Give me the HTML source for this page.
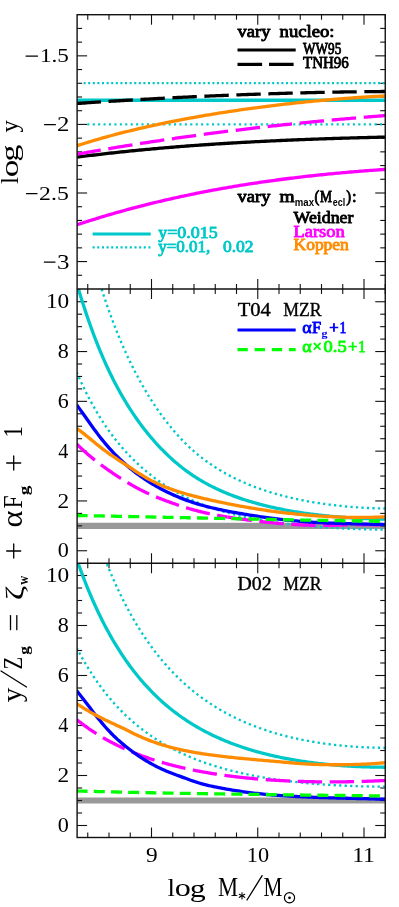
<!DOCTYPE html>
<html><head><meta charset="utf-8"><title>chart</title>
<style>html,body{margin:0;padding:0;background:#fff}body{width:399px;height:907px;overflow:hidden}</style>
</head><body>
<svg width="399" height="907" viewBox="0 0 399 907" style="display:block;will-change:transform">
<rect width="399" height="907" fill="#fff"/>
<defs>
<clipPath id="c1"><rect x="77.1" y="14.7" width="308.15" height="274.3"/></clipPath>
<clipPath id="c2"><rect x="77.1" y="289.0" width="308.15" height="274.25"/></clipPath>
<clipPath id="c3"><rect x="77.1" y="563.25" width="308.15" height="274.25"/></clipPath>
</defs>
<path d="M77.1,525.85 L385.25,525.85" fill="none" stroke="#999999" stroke-width="6.2" stroke-linecap="butt" stroke-linejoin="round"/>
<path d="M77.1,800.50 L385.25,800.50" fill="none" stroke="#999999" stroke-width="6.2" stroke-linecap="butt" stroke-linejoin="round"/>
<line x1="87.75" y1="14.70" x2="87.75" y2="19.70" stroke="#111" stroke-width="1.1"/>
<line x1="87.75" y1="284.00" x2="87.75" y2="294.00" stroke="#111" stroke-width="1.1"/>
<line x1="87.75" y1="558.25" x2="87.75" y2="568.25" stroke="#111" stroke-width="1.1"/>
<line x1="87.75" y1="837.50" x2="87.75" y2="832.50" stroke="#111" stroke-width="1.1"/>
<line x1="109.00" y1="14.70" x2="109.00" y2="19.70" stroke="#111" stroke-width="1.1"/>
<line x1="109.00" y1="284.00" x2="109.00" y2="294.00" stroke="#111" stroke-width="1.1"/>
<line x1="109.00" y1="558.25" x2="109.00" y2="568.25" stroke="#111" stroke-width="1.1"/>
<line x1="109.00" y1="837.50" x2="109.00" y2="832.50" stroke="#111" stroke-width="1.1"/>
<line x1="130.25" y1="14.70" x2="130.25" y2="19.70" stroke="#111" stroke-width="1.1"/>
<line x1="130.25" y1="284.00" x2="130.25" y2="294.00" stroke="#111" stroke-width="1.1"/>
<line x1="130.25" y1="558.25" x2="130.25" y2="568.25" stroke="#111" stroke-width="1.1"/>
<line x1="130.25" y1="837.50" x2="130.25" y2="832.50" stroke="#111" stroke-width="1.1"/>
<line x1="151.50" y1="14.70" x2="151.50" y2="24.70" stroke="#111" stroke-width="1.1"/>
<line x1="151.50" y1="279.00" x2="151.50" y2="299.00" stroke="#111" stroke-width="1.1"/>
<line x1="151.50" y1="553.25" x2="151.50" y2="573.25" stroke="#111" stroke-width="1.1"/>
<line x1="151.50" y1="837.50" x2="151.50" y2="827.50" stroke="#111" stroke-width="1.1"/>
<line x1="172.75" y1="14.70" x2="172.75" y2="19.70" stroke="#111" stroke-width="1.1"/>
<line x1="172.75" y1="284.00" x2="172.75" y2="294.00" stroke="#111" stroke-width="1.1"/>
<line x1="172.75" y1="558.25" x2="172.75" y2="568.25" stroke="#111" stroke-width="1.1"/>
<line x1="172.75" y1="837.50" x2="172.75" y2="832.50" stroke="#111" stroke-width="1.1"/>
<line x1="194.00" y1="14.70" x2="194.00" y2="19.70" stroke="#111" stroke-width="1.1"/>
<line x1="194.00" y1="284.00" x2="194.00" y2="294.00" stroke="#111" stroke-width="1.1"/>
<line x1="194.00" y1="558.25" x2="194.00" y2="568.25" stroke="#111" stroke-width="1.1"/>
<line x1="194.00" y1="837.50" x2="194.00" y2="832.50" stroke="#111" stroke-width="1.1"/>
<line x1="215.25" y1="14.70" x2="215.25" y2="19.70" stroke="#111" stroke-width="1.1"/>
<line x1="215.25" y1="284.00" x2="215.25" y2="294.00" stroke="#111" stroke-width="1.1"/>
<line x1="215.25" y1="558.25" x2="215.25" y2="568.25" stroke="#111" stroke-width="1.1"/>
<line x1="215.25" y1="837.50" x2="215.25" y2="832.50" stroke="#111" stroke-width="1.1"/>
<line x1="236.50" y1="14.70" x2="236.50" y2="19.70" stroke="#111" stroke-width="1.1"/>
<line x1="236.50" y1="284.00" x2="236.50" y2="294.00" stroke="#111" stroke-width="1.1"/>
<line x1="236.50" y1="558.25" x2="236.50" y2="568.25" stroke="#111" stroke-width="1.1"/>
<line x1="236.50" y1="837.50" x2="236.50" y2="832.50" stroke="#111" stroke-width="1.1"/>
<line x1="257.75" y1="14.70" x2="257.75" y2="24.70" stroke="#111" stroke-width="1.1"/>
<line x1="257.75" y1="279.00" x2="257.75" y2="299.00" stroke="#111" stroke-width="1.1"/>
<line x1="257.75" y1="553.25" x2="257.75" y2="573.25" stroke="#111" stroke-width="1.1"/>
<line x1="257.75" y1="837.50" x2="257.75" y2="827.50" stroke="#111" stroke-width="1.1"/>
<line x1="279.00" y1="14.70" x2="279.00" y2="19.70" stroke="#111" stroke-width="1.1"/>
<line x1="279.00" y1="284.00" x2="279.00" y2="294.00" stroke="#111" stroke-width="1.1"/>
<line x1="279.00" y1="558.25" x2="279.00" y2="568.25" stroke="#111" stroke-width="1.1"/>
<line x1="279.00" y1="837.50" x2="279.00" y2="832.50" stroke="#111" stroke-width="1.1"/>
<line x1="300.25" y1="14.70" x2="300.25" y2="19.70" stroke="#111" stroke-width="1.1"/>
<line x1="300.25" y1="284.00" x2="300.25" y2="294.00" stroke="#111" stroke-width="1.1"/>
<line x1="300.25" y1="558.25" x2="300.25" y2="568.25" stroke="#111" stroke-width="1.1"/>
<line x1="300.25" y1="837.50" x2="300.25" y2="832.50" stroke="#111" stroke-width="1.1"/>
<line x1="321.50" y1="14.70" x2="321.50" y2="19.70" stroke="#111" stroke-width="1.1"/>
<line x1="321.50" y1="284.00" x2="321.50" y2="294.00" stroke="#111" stroke-width="1.1"/>
<line x1="321.50" y1="558.25" x2="321.50" y2="568.25" stroke="#111" stroke-width="1.1"/>
<line x1="321.50" y1="837.50" x2="321.50" y2="832.50" stroke="#111" stroke-width="1.1"/>
<line x1="342.75" y1="14.70" x2="342.75" y2="19.70" stroke="#111" stroke-width="1.1"/>
<line x1="342.75" y1="284.00" x2="342.75" y2="294.00" stroke="#111" stroke-width="1.1"/>
<line x1="342.75" y1="558.25" x2="342.75" y2="568.25" stroke="#111" stroke-width="1.1"/>
<line x1="342.75" y1="837.50" x2="342.75" y2="832.50" stroke="#111" stroke-width="1.1"/>
<line x1="364.00" y1="14.70" x2="364.00" y2="24.70" stroke="#111" stroke-width="1.1"/>
<line x1="364.00" y1="279.00" x2="364.00" y2="299.00" stroke="#111" stroke-width="1.1"/>
<line x1="364.00" y1="553.25" x2="364.00" y2="573.25" stroke="#111" stroke-width="1.1"/>
<line x1="364.00" y1="837.50" x2="364.00" y2="827.50" stroke="#111" stroke-width="1.1"/>
<line x1="385.25" y1="14.70" x2="385.25" y2="19.70" stroke="#111" stroke-width="1.1"/>
<line x1="385.25" y1="284.00" x2="385.25" y2="294.00" stroke="#111" stroke-width="1.1"/>
<line x1="385.25" y1="558.25" x2="385.25" y2="568.25" stroke="#111" stroke-width="1.1"/>
<line x1="385.25" y1="837.50" x2="385.25" y2="832.50" stroke="#111" stroke-width="1.1"/>
<line x1="77.10" y1="275.29" x2="82.10" y2="275.29" stroke="#111" stroke-width="1.1"/>
<line x1="385.25" y1="275.29" x2="380.25" y2="275.29" stroke="#111" stroke-width="1.1"/>
<line x1="77.10" y1="261.57" x2="87.10" y2="261.57" stroke="#111" stroke-width="1.1"/>
<line x1="385.25" y1="261.57" x2="375.25" y2="261.57" stroke="#111" stroke-width="1.1"/>
<line x1="77.10" y1="247.85" x2="82.10" y2="247.85" stroke="#111" stroke-width="1.1"/>
<line x1="385.25" y1="247.85" x2="380.25" y2="247.85" stroke="#111" stroke-width="1.1"/>
<line x1="77.10" y1="234.14" x2="82.10" y2="234.14" stroke="#111" stroke-width="1.1"/>
<line x1="385.25" y1="234.14" x2="380.25" y2="234.14" stroke="#111" stroke-width="1.1"/>
<line x1="77.10" y1="220.43" x2="82.10" y2="220.43" stroke="#111" stroke-width="1.1"/>
<line x1="385.25" y1="220.43" x2="380.25" y2="220.43" stroke="#111" stroke-width="1.1"/>
<line x1="77.10" y1="206.71" x2="82.10" y2="206.71" stroke="#111" stroke-width="1.1"/>
<line x1="385.25" y1="206.71" x2="380.25" y2="206.71" stroke="#111" stroke-width="1.1"/>
<line x1="77.10" y1="193.00" x2="87.10" y2="193.00" stroke="#111" stroke-width="1.1"/>
<line x1="385.25" y1="193.00" x2="375.25" y2="193.00" stroke="#111" stroke-width="1.1"/>
<line x1="77.10" y1="179.28" x2="82.10" y2="179.28" stroke="#111" stroke-width="1.1"/>
<line x1="385.25" y1="179.28" x2="380.25" y2="179.28" stroke="#111" stroke-width="1.1"/>
<line x1="77.10" y1="165.56" x2="82.10" y2="165.56" stroke="#111" stroke-width="1.1"/>
<line x1="385.25" y1="165.56" x2="380.25" y2="165.56" stroke="#111" stroke-width="1.1"/>
<line x1="77.10" y1="151.85" x2="82.10" y2="151.85" stroke="#111" stroke-width="1.1"/>
<line x1="385.25" y1="151.85" x2="380.25" y2="151.85" stroke="#111" stroke-width="1.1"/>
<line x1="77.10" y1="138.14" x2="82.10" y2="138.14" stroke="#111" stroke-width="1.1"/>
<line x1="385.25" y1="138.14" x2="380.25" y2="138.14" stroke="#111" stroke-width="1.1"/>
<line x1="77.10" y1="124.42" x2="87.10" y2="124.42" stroke="#111" stroke-width="1.1"/>
<line x1="385.25" y1="124.42" x2="375.25" y2="124.42" stroke="#111" stroke-width="1.1"/>
<line x1="77.10" y1="110.70" x2="82.10" y2="110.70" stroke="#111" stroke-width="1.1"/>
<line x1="385.25" y1="110.70" x2="380.25" y2="110.70" stroke="#111" stroke-width="1.1"/>
<line x1="77.10" y1="96.99" x2="82.10" y2="96.99" stroke="#111" stroke-width="1.1"/>
<line x1="385.25" y1="96.99" x2="380.25" y2="96.99" stroke="#111" stroke-width="1.1"/>
<line x1="77.10" y1="83.28" x2="82.10" y2="83.28" stroke="#111" stroke-width="1.1"/>
<line x1="385.25" y1="83.28" x2="380.25" y2="83.28" stroke="#111" stroke-width="1.1"/>
<line x1="77.10" y1="69.56" x2="82.10" y2="69.56" stroke="#111" stroke-width="1.1"/>
<line x1="385.25" y1="69.56" x2="380.25" y2="69.56" stroke="#111" stroke-width="1.1"/>
<line x1="77.10" y1="55.85" x2="87.10" y2="55.85" stroke="#111" stroke-width="1.1"/>
<line x1="385.25" y1="55.85" x2="375.25" y2="55.85" stroke="#111" stroke-width="1.1"/>
<line x1="77.10" y1="42.13" x2="82.10" y2="42.13" stroke="#111" stroke-width="1.1"/>
<line x1="385.25" y1="42.13" x2="380.25" y2="42.13" stroke="#111" stroke-width="1.1"/>
<line x1="77.10" y1="28.42" x2="82.10" y2="28.42" stroke="#111" stroke-width="1.1"/>
<line x1="385.25" y1="28.42" x2="380.25" y2="28.42" stroke="#111" stroke-width="1.1"/>
<line x1="77.10" y1="550.75" x2="87.10" y2="550.75" stroke="#111" stroke-width="1.1"/>
<line x1="385.25" y1="550.75" x2="375.25" y2="550.75" stroke="#111" stroke-width="1.1"/>
<line x1="77.10" y1="538.30" x2="82.10" y2="538.30" stroke="#111" stroke-width="1.1"/>
<line x1="385.25" y1="538.30" x2="380.25" y2="538.30" stroke="#111" stroke-width="1.1"/>
<line x1="77.10" y1="525.85" x2="82.10" y2="525.85" stroke="#111" stroke-width="1.1"/>
<line x1="385.25" y1="525.85" x2="380.25" y2="525.85" stroke="#111" stroke-width="1.1"/>
<line x1="77.10" y1="513.40" x2="82.10" y2="513.40" stroke="#111" stroke-width="1.1"/>
<line x1="385.25" y1="513.40" x2="380.25" y2="513.40" stroke="#111" stroke-width="1.1"/>
<line x1="77.10" y1="500.95" x2="87.10" y2="500.95" stroke="#111" stroke-width="1.1"/>
<line x1="385.25" y1="500.95" x2="375.25" y2="500.95" stroke="#111" stroke-width="1.1"/>
<line x1="77.10" y1="488.50" x2="82.10" y2="488.50" stroke="#111" stroke-width="1.1"/>
<line x1="385.25" y1="488.50" x2="380.25" y2="488.50" stroke="#111" stroke-width="1.1"/>
<line x1="77.10" y1="476.05" x2="82.10" y2="476.05" stroke="#111" stroke-width="1.1"/>
<line x1="385.25" y1="476.05" x2="380.25" y2="476.05" stroke="#111" stroke-width="1.1"/>
<line x1="77.10" y1="463.60" x2="82.10" y2="463.60" stroke="#111" stroke-width="1.1"/>
<line x1="385.25" y1="463.60" x2="380.25" y2="463.60" stroke="#111" stroke-width="1.1"/>
<line x1="77.10" y1="451.15" x2="87.10" y2="451.15" stroke="#111" stroke-width="1.1"/>
<line x1="385.25" y1="451.15" x2="375.25" y2="451.15" stroke="#111" stroke-width="1.1"/>
<line x1="77.10" y1="438.70" x2="82.10" y2="438.70" stroke="#111" stroke-width="1.1"/>
<line x1="385.25" y1="438.70" x2="380.25" y2="438.70" stroke="#111" stroke-width="1.1"/>
<line x1="77.10" y1="426.25" x2="82.10" y2="426.25" stroke="#111" stroke-width="1.1"/>
<line x1="385.25" y1="426.25" x2="380.25" y2="426.25" stroke="#111" stroke-width="1.1"/>
<line x1="77.10" y1="413.80" x2="82.10" y2="413.80" stroke="#111" stroke-width="1.1"/>
<line x1="385.25" y1="413.80" x2="380.25" y2="413.80" stroke="#111" stroke-width="1.1"/>
<line x1="77.10" y1="401.35" x2="87.10" y2="401.35" stroke="#111" stroke-width="1.1"/>
<line x1="385.25" y1="401.35" x2="375.25" y2="401.35" stroke="#111" stroke-width="1.1"/>
<line x1="77.10" y1="388.90" x2="82.10" y2="388.90" stroke="#111" stroke-width="1.1"/>
<line x1="385.25" y1="388.90" x2="380.25" y2="388.90" stroke="#111" stroke-width="1.1"/>
<line x1="77.10" y1="376.45" x2="82.10" y2="376.45" stroke="#111" stroke-width="1.1"/>
<line x1="385.25" y1="376.45" x2="380.25" y2="376.45" stroke="#111" stroke-width="1.1"/>
<line x1="77.10" y1="364.00" x2="82.10" y2="364.00" stroke="#111" stroke-width="1.1"/>
<line x1="385.25" y1="364.00" x2="380.25" y2="364.00" stroke="#111" stroke-width="1.1"/>
<line x1="77.10" y1="351.55" x2="87.10" y2="351.55" stroke="#111" stroke-width="1.1"/>
<line x1="385.25" y1="351.55" x2="375.25" y2="351.55" stroke="#111" stroke-width="1.1"/>
<line x1="77.10" y1="339.10" x2="82.10" y2="339.10" stroke="#111" stroke-width="1.1"/>
<line x1="385.25" y1="339.10" x2="380.25" y2="339.10" stroke="#111" stroke-width="1.1"/>
<line x1="77.10" y1="326.65" x2="82.10" y2="326.65" stroke="#111" stroke-width="1.1"/>
<line x1="385.25" y1="326.65" x2="380.25" y2="326.65" stroke="#111" stroke-width="1.1"/>
<line x1="77.10" y1="314.20" x2="82.10" y2="314.20" stroke="#111" stroke-width="1.1"/>
<line x1="385.25" y1="314.20" x2="380.25" y2="314.20" stroke="#111" stroke-width="1.1"/>
<line x1="77.10" y1="301.75" x2="87.10" y2="301.75" stroke="#111" stroke-width="1.1"/>
<line x1="385.25" y1="301.75" x2="375.25" y2="301.75" stroke="#111" stroke-width="1.1"/>
<line x1="77.10" y1="825.50" x2="87.10" y2="825.50" stroke="#111" stroke-width="1.1"/>
<line x1="385.25" y1="825.50" x2="375.25" y2="825.50" stroke="#111" stroke-width="1.1"/>
<line x1="77.10" y1="813.00" x2="82.10" y2="813.00" stroke="#111" stroke-width="1.1"/>
<line x1="385.25" y1="813.00" x2="380.25" y2="813.00" stroke="#111" stroke-width="1.1"/>
<line x1="77.10" y1="800.50" x2="82.10" y2="800.50" stroke="#111" stroke-width="1.1"/>
<line x1="385.25" y1="800.50" x2="380.25" y2="800.50" stroke="#111" stroke-width="1.1"/>
<line x1="77.10" y1="788.00" x2="82.10" y2="788.00" stroke="#111" stroke-width="1.1"/>
<line x1="385.25" y1="788.00" x2="380.25" y2="788.00" stroke="#111" stroke-width="1.1"/>
<line x1="77.10" y1="775.50" x2="87.10" y2="775.50" stroke="#111" stroke-width="1.1"/>
<line x1="385.25" y1="775.50" x2="375.25" y2="775.50" stroke="#111" stroke-width="1.1"/>
<line x1="77.10" y1="763.00" x2="82.10" y2="763.00" stroke="#111" stroke-width="1.1"/>
<line x1="385.25" y1="763.00" x2="380.25" y2="763.00" stroke="#111" stroke-width="1.1"/>
<line x1="77.10" y1="750.50" x2="82.10" y2="750.50" stroke="#111" stroke-width="1.1"/>
<line x1="385.25" y1="750.50" x2="380.25" y2="750.50" stroke="#111" stroke-width="1.1"/>
<line x1="77.10" y1="738.00" x2="82.10" y2="738.00" stroke="#111" stroke-width="1.1"/>
<line x1="385.25" y1="738.00" x2="380.25" y2="738.00" stroke="#111" stroke-width="1.1"/>
<line x1="77.10" y1="725.50" x2="87.10" y2="725.50" stroke="#111" stroke-width="1.1"/>
<line x1="385.25" y1="725.50" x2="375.25" y2="725.50" stroke="#111" stroke-width="1.1"/>
<line x1="77.10" y1="713.00" x2="82.10" y2="713.00" stroke="#111" stroke-width="1.1"/>
<line x1="385.25" y1="713.00" x2="380.25" y2="713.00" stroke="#111" stroke-width="1.1"/>
<line x1="77.10" y1="700.50" x2="82.10" y2="700.50" stroke="#111" stroke-width="1.1"/>
<line x1="385.25" y1="700.50" x2="380.25" y2="700.50" stroke="#111" stroke-width="1.1"/>
<line x1="77.10" y1="688.00" x2="82.10" y2="688.00" stroke="#111" stroke-width="1.1"/>
<line x1="385.25" y1="688.00" x2="380.25" y2="688.00" stroke="#111" stroke-width="1.1"/>
<line x1="77.10" y1="675.50" x2="87.10" y2="675.50" stroke="#111" stroke-width="1.1"/>
<line x1="385.25" y1="675.50" x2="375.25" y2="675.50" stroke="#111" stroke-width="1.1"/>
<line x1="77.10" y1="663.00" x2="82.10" y2="663.00" stroke="#111" stroke-width="1.1"/>
<line x1="385.25" y1="663.00" x2="380.25" y2="663.00" stroke="#111" stroke-width="1.1"/>
<line x1="77.10" y1="650.50" x2="82.10" y2="650.50" stroke="#111" stroke-width="1.1"/>
<line x1="385.25" y1="650.50" x2="380.25" y2="650.50" stroke="#111" stroke-width="1.1"/>
<line x1="77.10" y1="638.00" x2="82.10" y2="638.00" stroke="#111" stroke-width="1.1"/>
<line x1="385.25" y1="638.00" x2="380.25" y2="638.00" stroke="#111" stroke-width="1.1"/>
<line x1="77.10" y1="625.50" x2="87.10" y2="625.50" stroke="#111" stroke-width="1.1"/>
<line x1="385.25" y1="625.50" x2="375.25" y2="625.50" stroke="#111" stroke-width="1.1"/>
<line x1="77.10" y1="613.00" x2="82.10" y2="613.00" stroke="#111" stroke-width="1.1"/>
<line x1="385.25" y1="613.00" x2="380.25" y2="613.00" stroke="#111" stroke-width="1.1"/>
<line x1="77.10" y1="600.50" x2="82.10" y2="600.50" stroke="#111" stroke-width="1.1"/>
<line x1="385.25" y1="600.50" x2="380.25" y2="600.50" stroke="#111" stroke-width="1.1"/>
<line x1="77.10" y1="588.00" x2="82.10" y2="588.00" stroke="#111" stroke-width="1.1"/>
<line x1="385.25" y1="588.00" x2="380.25" y2="588.00" stroke="#111" stroke-width="1.1"/>
<line x1="77.10" y1="575.50" x2="87.10" y2="575.50" stroke="#111" stroke-width="1.1"/>
<line x1="385.25" y1="575.50" x2="375.25" y2="575.50" stroke="#111" stroke-width="1.1"/>
<g clip-path="url(#c1)">
<path d="M83.6,83.13 L385.25,83.13" fill="none" stroke="#00c8c8" stroke-width="2.15" stroke-linecap="butt" stroke-linejoin="round" stroke-dasharray="2.05 2.55"/>
<path d="M87.3,124.42 L385.25,124.42" fill="none" stroke="#00c8c8" stroke-width="2.15" stroke-linecap="butt" stroke-linejoin="round" stroke-dasharray="2.05 3.37"/>
<path d="M77.1,100.27 L385.25,100.27" fill="none" stroke="#00c8c8" stroke-width="3.3" stroke-linecap="butt" stroke-linejoin="round"/>
<path d="M76.60,157.18 L78.54,156.93 L80.49,156.68 L82.43,156.44 L84.38,156.20 L86.32,155.95 L88.27,155.72 L90.21,155.48 L92.15,155.24 L94.10,155.01 L96.04,154.78 L97.99,154.55 L99.93,154.32 L101.88,154.10 L103.82,153.87 L105.77,153.65 L107.71,153.43 L109.65,153.22 L111.60,153.00 L113.54,152.79 L115.49,152.58 L117.43,152.37 L119.38,152.16 L121.32,151.95 L123.26,151.75 L125.21,151.55 L127.15,151.35 L129.10,151.15 L131.04,150.95 L132.99,150.76 L134.93,150.57 L136.87,150.38 L138.82,150.19 L140.76,150.00 L142.71,149.81 L144.65,149.63 L146.60,149.45 L148.54,149.27 L150.48,149.09 L152.43,148.91 L154.37,148.74 L156.32,148.56 L158.26,148.39 L160.21,148.22 L162.15,148.05 L164.10,147.89 L166.04,147.72 L167.98,147.56 L169.93,147.40 L171.87,147.24 L173.82,147.08 L175.76,146.92 L177.71,146.77 L179.65,146.61 L181.59,146.46 L183.54,146.31 L185.48,146.16 L187.43,146.01 L189.37,145.87 L191.32,145.72 L193.26,145.58 L195.20,145.44 L197.15,145.30 L199.09,145.16 L201.04,145.02 L202.98,144.88 L204.93,144.75 L206.87,144.62 L208.82,144.49 L210.76,144.36 L212.70,144.23 L214.65,144.10 L216.59,143.97 L218.54,143.85 L220.48,143.73 L222.43,143.60 L224.37,143.48 L226.31,143.36 L228.26,143.25 L230.20,143.13 L232.15,143.01 L234.09,142.90 L236.04,142.79 L237.98,142.67 L239.92,142.56 L241.87,142.45 L243.81,142.35 L245.76,142.24 L247.70,142.13 L249.65,142.03 L251.59,141.93 L253.53,141.82 L255.48,141.72 L257.42,141.62 L259.37,141.53 L261.31,141.43 L263.26,141.33 L265.20,141.24 L267.15,141.14 L269.09,141.05 L271.03,140.96 L272.98,140.87 L274.92,140.78 L276.87,140.69 L278.81,140.60 L280.76,140.51 L282.70,140.43 L284.64,140.34 L286.59,140.26 L288.53,140.17 L290.48,140.09 L292.42,140.01 L294.37,139.93 L296.31,139.85 L298.25,139.77 L300.20,139.70 L302.14,139.62 L304.09,139.55 L306.03,139.47 L307.98,139.40 L309.92,139.32 L311.87,139.25 L313.81,139.18 L315.75,139.11 L317.70,139.04 L319.64,138.97 L321.59,138.90 L323.53,138.84 L325.48,138.77 L327.42,138.70 L329.36,138.64 L331.31,138.57 L333.25,138.51 L335.20,138.45 L337.14,138.39 L339.09,138.32 L341.03,138.26 L342.97,138.20 L344.92,138.14 L346.86,138.09 L348.81,138.03 L350.75,137.97 L352.70,137.91 L354.64,137.86 L356.58,137.80 L358.53,137.75 L360.47,137.69 L362.42,137.64 L364.36,137.58 L366.31,137.53 L368.25,137.48 L370.20,137.43 L372.14,137.38 L374.08,137.33 L376.03,137.28 L377.97,137.23 L379.92,137.18 L381.86,137.13 L383.81,137.08 L385.75,137.03" fill="none" stroke="#000000" stroke-width="3.3" stroke-linecap="butt" stroke-linejoin="round"/>
<path d="M76.60,103.51 L78.54,103.37 L80.49,103.24 L82.43,103.11 L84.38,102.98 L86.32,102.85 L88.27,102.72 L90.21,102.59 L92.15,102.46 L94.10,102.33 L96.04,102.21 L97.99,102.08 L99.93,101.96 L101.88,101.83 L103.82,101.71 L105.77,101.58 L107.71,101.46 L109.65,101.34 L111.60,101.22 L113.54,101.10 L115.49,100.98 L117.43,100.86 L119.38,100.74 L121.32,100.62 L123.26,100.51 L125.21,100.39 L127.15,100.27 L129.10,100.16 L131.04,100.04 L132.99,99.93 L134.93,99.82 L136.87,99.70 L138.82,99.59 L140.76,99.48 L142.71,99.37 L144.65,99.26 L146.60,99.15 L148.54,99.05 L150.48,98.94 L152.43,98.83 L154.37,98.73 L156.32,98.62 L158.26,98.52 L160.21,98.41 L162.15,98.31 L164.10,98.21 L166.04,98.11 L167.98,98.01 L169.93,97.91 L171.87,97.81 L173.82,97.71 L175.76,97.61 L177.71,97.51 L179.65,97.42 L181.59,97.32 L183.54,97.22 L185.48,97.13 L187.43,97.04 L189.37,96.94 L191.32,96.85 L193.26,96.76 L195.20,96.67 L197.15,96.58 L199.09,96.49 L201.04,96.40 L202.98,96.31 L204.93,96.23 L206.87,96.14 L208.82,96.06 L210.76,95.97 L212.70,95.89 L214.65,95.80 L216.59,95.72 L218.54,95.64 L220.48,95.56 L222.43,95.48 L224.37,95.40 L226.31,95.32 L228.26,95.24 L230.20,95.16 L232.15,95.09 L234.09,95.01 L236.04,94.94 L237.98,94.86 L239.92,94.79 L241.87,94.72 L243.81,94.64 L245.76,94.57 L247.70,94.50 L249.65,94.43 L251.59,94.36 L253.53,94.29 L255.48,94.23 L257.42,94.16 L259.37,94.09 L261.31,94.03 L263.26,93.96 L265.20,93.90 L267.15,93.84 L269.09,93.78 L271.03,93.71 L272.98,93.65 L274.92,93.59 L276.87,93.53 L278.81,93.48 L280.76,93.42 L282.70,93.36 L284.64,93.31 L286.59,93.25 L288.53,93.20 L290.48,93.14 L292.42,93.09 L294.37,93.04 L296.31,92.99 L298.25,92.94 L300.20,92.89 L302.14,92.84 L304.09,92.79 L306.03,92.74 L307.98,92.69 L309.92,92.65 L311.87,92.60 L313.81,92.56 L315.75,92.52 L317.70,92.47 L319.64,92.43 L321.59,92.39 L323.53,92.35 L325.48,92.31 L327.42,92.27 L329.36,92.23 L331.31,92.20 L333.25,92.16 L335.20,92.13 L337.14,92.09 L339.09,92.06 L341.03,92.02 L342.97,91.99 L344.92,91.96 L346.86,91.93 L348.81,91.90 L350.75,91.87 L352.70,91.84 L354.64,91.81 L356.58,91.79 L358.53,91.76 L360.47,91.74 L362.42,91.71 L364.36,91.69 L366.31,91.67 L368.25,91.65 L370.20,91.62 L372.14,91.60 L374.08,91.58 L376.03,91.57 L377.97,91.55 L379.92,91.53 L381.86,91.52 L383.81,91.50 L385.75,91.49" fill="none" stroke="#000000" stroke-width="3.3" stroke-linecap="butt" stroke-linejoin="round" stroke-dasharray="24.4 7.6"/>
<path d="M76.60,224.90 L78.54,224.26 L80.49,223.63 L82.43,223.00 L84.38,222.37 L86.32,221.75 L88.27,221.13 L90.21,220.52 L92.15,219.91 L94.10,219.31 L96.04,218.71 L97.99,218.11 L99.93,217.52 L101.88,216.94 L103.82,216.35 L105.77,215.78 L107.71,215.20 L109.65,214.63 L111.60,214.07 L113.54,213.51 L115.49,212.95 L117.43,212.40 L119.38,211.86 L121.32,211.31 L123.26,210.77 L125.21,210.24 L127.15,209.71 L129.10,209.18 L131.04,208.66 L132.99,208.14 L134.93,207.63 L136.87,207.12 L138.82,206.61 L140.76,206.11 L142.71,205.61 L144.65,205.12 L146.60,204.63 L148.54,204.14 L150.48,203.66 L152.43,203.18 L154.37,202.71 L156.32,202.24 L158.26,201.77 L160.21,201.31 L162.15,200.85 L164.10,200.40 L166.04,199.95 L167.98,199.50 L169.93,199.06 L171.87,198.62 L173.82,198.18 L175.76,197.75 L177.71,197.32 L179.65,196.90 L181.59,196.48 L183.54,196.06 L185.48,195.65 L187.43,195.24 L189.37,194.83 L191.32,194.43 L193.26,194.03 L195.20,193.63 L197.15,193.24 L199.09,192.85 L201.04,192.47 L202.98,192.09 L204.93,191.71 L206.87,191.33 L208.82,190.96 L210.76,190.60 L212.70,190.23 L214.65,189.87 L216.59,189.51 L218.54,189.16 L220.48,188.81 L222.43,188.46 L224.37,188.12 L226.31,187.78 L228.26,187.44 L230.20,187.11 L232.15,186.77 L234.09,186.45 L236.04,186.12 L237.98,185.80 L239.92,185.48 L241.87,185.17 L243.81,184.85 L245.76,184.55 L247.70,184.24 L249.65,183.94 L251.59,183.64 L253.53,183.34 L255.48,183.05 L257.42,182.76 L259.37,182.47 L261.31,182.19 L263.26,181.90 L265.20,181.62 L267.15,181.35 L269.09,181.08 L271.03,180.81 L272.98,180.54 L274.92,180.27 L276.87,180.01 L278.81,179.75 L280.76,179.50 L282.70,179.25 L284.64,179.00 L286.59,178.75 L288.53,178.50 L290.48,178.26 L292.42,178.02 L294.37,177.79 L296.31,177.55 L298.25,177.32 L300.20,177.09 L302.14,176.87 L304.09,176.64 L306.03,176.42 L307.98,176.20 L309.92,175.99 L311.87,175.77 L313.81,175.56 L315.75,175.35 L317.70,175.15 L319.64,174.95 L321.59,174.74 L323.53,174.55 L325.48,174.35 L327.42,174.16 L329.36,173.96 L331.31,173.78 L333.25,173.59 L335.20,173.40 L337.14,173.22 L339.09,173.04 L341.03,172.87 L342.97,172.69 L344.92,172.52 L346.86,172.35 L348.81,172.18 L350.75,172.01 L352.70,171.85 L354.64,171.68 L356.58,171.52 L358.53,171.37 L360.47,171.21 L362.42,171.06 L364.36,170.91 L366.31,170.76 L368.25,170.61 L370.20,170.46 L372.14,170.32 L374.08,170.18 L376.03,170.04 L377.97,169.90 L379.92,169.76 L381.86,169.63 L383.81,169.50 L385.75,169.37" fill="none" stroke="#ff00ff" stroke-width="3.3" stroke-linecap="butt" stroke-linejoin="round"/>
<path d="M76.60,154.30 L78.54,153.95 L80.49,153.60 L82.43,153.25 L84.38,152.90 L86.32,152.56 L88.27,152.21 L90.21,151.87 L92.15,151.53 L94.10,151.19 L96.04,150.85 L97.99,150.51 L99.93,150.18 L101.88,149.84 L103.82,149.51 L105.77,149.18 L107.71,148.85 L109.65,148.52 L111.60,148.20 L113.54,147.87 L115.49,147.55 L117.43,147.22 L119.38,146.90 L121.32,146.59 L123.26,146.27 L125.21,145.95 L127.15,145.64 L129.10,145.32 L131.04,145.01 L132.99,144.70 L134.93,144.39 L136.87,144.09 L138.82,143.78 L140.76,143.48 L142.71,143.17 L144.65,142.87 L146.60,142.57 L148.54,142.27 L150.48,141.97 L152.43,141.68 L154.37,141.38 L156.32,141.09 L158.26,140.80 L160.21,140.51 L162.15,140.22 L164.10,139.93 L166.04,139.65 L167.98,139.36 L169.93,139.08 L171.87,138.80 L173.82,138.52 L175.76,138.24 L177.71,137.96 L179.65,137.68 L181.59,137.41 L183.54,137.14 L185.48,136.86 L187.43,136.59 L189.37,136.32 L191.32,136.05 L193.26,135.79 L195.20,135.52 L197.15,135.26 L199.09,135.00 L201.04,134.73 L202.98,134.47 L204.93,134.22 L206.87,133.96 L208.82,133.70 L210.76,133.45 L212.70,133.19 L214.65,132.94 L216.59,132.69 L218.54,132.44 L220.48,132.19 L222.43,131.95 L224.37,131.70 L226.31,131.46 L228.26,131.21 L230.20,130.97 L232.15,130.73 L234.09,130.49 L236.04,130.25 L237.98,130.02 L239.92,129.78 L241.87,129.55 L243.81,129.32 L245.76,129.08 L247.70,128.85 L249.65,128.62 L251.59,128.40 L253.53,128.17 L255.48,127.95 L257.42,127.72 L259.37,127.50 L261.31,127.28 L263.26,127.06 L265.20,126.84 L267.15,126.62 L269.09,126.40 L271.03,126.19 L272.98,125.97 L274.92,125.76 L276.87,125.55 L278.81,125.34 L280.76,125.13 L282.70,124.92 L284.64,124.72 L286.59,124.51 L288.53,124.31 L290.48,124.10 L292.42,123.90 L294.37,123.70 L296.31,123.50 L298.25,123.30 L300.20,123.10 L302.14,122.91 L304.09,122.71 L306.03,122.52 L307.98,122.33 L309.92,122.14 L311.87,121.94 L313.81,121.76 L315.75,121.57 L317.70,121.38 L319.64,121.20 L321.59,121.01 L323.53,120.83 L325.48,120.64 L327.42,120.46 L329.36,120.28 L331.31,120.10 L333.25,119.93 L335.20,119.75 L337.14,119.57 L339.09,119.40 L341.03,119.23 L342.97,119.05 L344.92,118.88 L346.86,118.71 L348.81,118.54 L350.75,118.38 L352.70,118.21 L354.64,118.04 L356.58,117.88 L358.53,117.72 L360.47,117.55 L362.42,117.39 L364.36,117.23 L366.31,117.07 L368.25,116.92 L370.20,116.76 L372.14,116.60 L374.08,116.45 L376.03,116.29 L377.97,116.14 L379.92,115.99 L381.86,115.84 L383.81,115.69 L385.75,115.54" fill="none" stroke="#ff00ff" stroke-width="3.3" stroke-linecap="butt" stroke-linejoin="round" stroke-dasharray="24.5 7.68"/>
<path d="M76.60,145.82 L78.54,145.19 L80.49,144.57 L82.43,143.96 L84.38,143.36 L86.32,142.76 L88.27,142.17 L90.21,141.58 L92.15,141.00 L94.10,140.42 L96.04,139.85 L97.99,139.29 L99.93,138.73 L101.88,138.18 L103.82,137.63 L105.77,137.09 L107.71,136.56 L109.65,136.02 L111.60,135.50 L113.54,134.98 L115.49,134.47 L117.43,133.96 L119.38,133.45 L121.32,132.95 L123.26,132.46 L125.21,131.97 L127.15,131.48 L129.10,131.00 L131.04,130.53 L132.99,130.06 L134.93,129.59 L136.87,129.13 L138.82,128.68 L140.76,128.23 L142.71,127.78 L144.65,127.34 L146.60,126.90 L148.54,126.46 L150.48,126.03 L152.43,125.61 L154.37,125.19 L156.32,124.77 L158.26,124.36 L160.21,123.95 L162.15,123.54 L164.10,123.14 L166.04,122.74 L167.98,122.35 L169.93,121.96 L171.87,121.57 L173.82,121.19 L175.76,120.81 L177.71,120.43 L179.65,120.06 L181.59,119.69 L183.54,119.32 L185.48,118.96 L187.43,118.60 L189.37,118.24 L191.32,117.89 L193.26,117.54 L195.20,117.19 L197.15,116.84 L199.09,116.50 L201.04,116.16 L202.98,115.83 L204.93,115.49 L206.87,115.16 L208.82,114.84 L210.76,114.51 L212.70,114.19 L214.65,113.87 L216.59,113.56 L218.54,113.24 L220.48,112.93 L222.43,112.62 L224.37,112.32 L226.31,112.02 L228.26,111.72 L230.20,111.42 L232.15,111.13 L234.09,110.84 L236.04,110.55 L237.98,110.26 L239.92,109.98 L241.87,109.70 L243.81,109.42 L245.76,109.15 L247.70,108.88 L249.65,108.61 L251.59,108.34 L253.53,108.08 L255.48,107.81 L257.42,107.56 L259.37,107.30 L261.31,107.05 L263.26,106.79 L265.20,106.55 L267.15,106.30 L269.09,106.06 L271.03,105.82 L272.98,105.58 L274.92,105.34 L276.87,105.11 L278.81,104.88 L280.76,104.65 L282.70,104.43 L284.64,104.20 L286.59,103.98 L288.53,103.77 L290.48,103.55 L292.42,103.34 L294.37,103.13 L296.31,102.92 L298.25,102.71 L300.20,102.51 L302.14,102.31 L304.09,102.11 L306.03,101.91 L307.98,101.72 L309.92,101.53 L311.87,101.34 L313.81,101.16 L315.75,100.97 L317.70,100.79 L319.64,100.61 L321.59,100.43 L323.53,100.26 L325.48,100.09 L327.42,99.92 L329.36,99.75 L331.31,99.58 L333.25,99.42 L335.20,99.26 L337.14,99.10 L339.09,98.94 L341.03,98.79 L342.97,98.64 L344.92,98.49 L346.86,98.34 L348.81,98.20 L350.75,98.05 L352.70,97.91 L354.64,97.77 L356.58,97.64 L358.53,97.50 L360.47,97.37 L362.42,97.24 L364.36,97.11 L366.31,96.99 L368.25,96.86 L370.20,96.74 L372.14,96.62 L374.08,96.51 L376.03,96.39 L377.97,96.28 L379.92,96.17 L381.86,96.06 L383.81,95.95 L385.75,95.84" fill="none" stroke="#ff8c00" stroke-width="3.3" stroke-linecap="butt" stroke-linejoin="round"/>
</g>
<g clip-path="url(#c2)">
<path d="M76.60,193.51 L78.01,199.89 L79.42,206.15 L80.83,212.28 L82.25,218.28 L83.66,224.17 L85.07,229.93 L86.48,235.57 L87.89,241.10 L89.30,246.51 L90.72,251.81 L92.13,257.00 L93.54,262.07 L94.95,267.04 L96.36,271.90 L97.77,276.65 L99.19,281.31 L100.60,285.86 L102.01,290.31 L103.42,294.66 L104.83,298.92 L106.24,303.08 L107.66,307.16 L109.07,311.15 L110.48,315.05 L111.89,318.87 L113.30,322.62 L114.71,326.28 L116.13,329.87 L117.54,333.39 L118.95,336.84 L120.36,340.22 L121.77,343.54 L123.18,346.79 L124.60,349.97 L126.01,353.10 L127.42,356.17 L128.83,359.17 L130.24,362.12 L131.65,365.02 L133.07,367.85 L134.48,370.64 L135.89,373.37 L137.30,376.05 L138.71,378.68 L140.12,381.26 L141.54,383.80 L142.95,386.29 L144.36,388.73 L145.77,391.12 L147.18,393.48 L148.59,395.79 L150.01,398.05 L151.42,400.28 L152.83,402.47 L154.24,404.61 L155.65,406.72 L157.06,408.79 L158.48,410.83 L159.89,412.82 L161.30,414.79 L162.71,416.71 L164.12,418.61 L165.53,420.47 L166.95,422.30 L168.36,424.10 L169.77,425.86 L171.18,427.60 L172.59,429.30 L174.00,430.98 L175.42,432.62 L176.83,434.23 L178.24,435.81 L179.65,437.35 L181.06,438.87 L182.47,440.35 L183.88,441.80 L185.30,443.22 L186.71,444.61 L188.12,445.97 L189.53,447.30 L190.94,448.61 L192.35,449.89 L193.77,451.14 L195.18,452.36 L196.59,453.56 L198.00,454.73 L199.41,455.89 L200.82,457.01 L202.24,458.12 L203.65,459.20 L205.06,460.26 L206.47,461.29 L207.88,462.31 L209.29,463.31 L210.71,464.28 L212.12,465.24 L213.53,466.18 L214.94,467.10 L216.35,468.00 L217.76,468.88 L219.18,469.75 L220.59,470.60 L222.00,471.43 L223.41,472.25 L224.82,473.05 L226.23,473.83 L227.65,474.60 L229.06,475.36 L230.47,476.10 L231.88,476.83 L233.29,477.54 L234.70,478.24 L236.12,478.92 L237.53,479.60 L238.94,480.26 L240.35,480.91 L241.76,481.55 L243.17,482.17 L244.59,482.78 L246.00,483.39 L247.41,483.98 L248.82,484.56 L250.23,485.13 L251.64,485.69 L253.06,486.24 L254.47,486.78 L255.88,487.31 L257.29,487.83 L258.70,488.34 L260.11,488.84 L261.53,489.33 L262.94,489.82 L264.35,490.29 L265.76,490.76 L267.17,491.21 L268.58,491.66 L270.00,492.11 L271.41,492.54 L272.82,492.96 L274.23,493.38 L275.64,493.79 L277.05,494.19 L278.47,494.59 L279.88,494.97 L281.29,495.35 L282.70,495.73 L284.11,496.09 L285.52,496.45 L286.93,496.80 L288.35,497.15 L289.76,497.48 L291.17,497.82 L292.58,498.14 L293.99,498.46 L295.40,498.77 L296.82,499.08 L298.23,499.38 L299.64,499.67 L301.05,499.96 L302.46,500.25 L303.87,500.52 L305.29,500.79 L306.70,501.06 L308.11,501.32 L309.52,501.57 L310.93,501.82 L312.34,502.07 L313.76,502.31 L315.17,502.54 L316.58,502.77 L317.99,502.99 L319.40,503.21 L320.81,503.42 L322.23,503.63 L323.64,503.83 L325.05,504.03 L326.46,504.22 L327.87,504.41 L329.28,504.60 L330.70,504.78 L332.11,504.95 L333.52,505.12 L334.93,505.29 L336.34,505.45 L337.75,505.61 L339.17,505.76 L340.58,505.91 L341.99,506.05 L343.40,506.19 L344.81,506.33 L346.22,506.46 L347.64,506.59 L349.05,506.71 L350.46,506.83 L351.87,506.95 L353.28,507.06 L354.69,507.17 L356.11,507.27 L357.52,507.37 L358.93,507.46 L360.34,507.56 L361.75,507.64 L363.16,507.73 L364.58,507.81 L365.99,507.88 L367.40,507.96 L368.81,508.02 L370.22,508.09 L371.63,508.15 L373.05,508.21 L374.46,508.26 L375.87,508.31 L377.28,508.36 L378.69,508.40 L380.10,508.44 L381.52,508.48 L382.93,508.51 L384.34,508.53 L385.75,508.56" fill="none" stroke="#00c8c8" stroke-width="2.35" stroke-linecap="butt" stroke-linejoin="round" stroke-dasharray="2.3 3.2"/>
<path d="M76.60,372.13 L78.01,375.32 L79.42,378.45 L80.83,381.51 L82.25,384.52 L83.66,387.46 L85.07,390.34 L86.48,393.16 L87.89,395.93 L89.30,398.63 L90.72,401.28 L92.13,403.87 L93.54,406.41 L94.95,408.89 L96.36,411.32 L97.77,413.70 L99.19,416.03 L100.60,418.30 L102.01,420.53 L103.42,422.71 L104.83,424.83 L106.24,426.92 L107.66,428.95 L109.07,430.95 L110.48,432.90 L111.89,434.81 L113.30,436.68 L114.71,438.52 L116.13,440.31 L117.54,442.07 L118.95,443.80 L120.36,445.49 L121.77,447.14 L123.18,448.77 L124.60,450.36 L126.01,451.93 L127.42,453.46 L128.83,454.96 L130.24,456.44 L131.65,457.88 L133.07,459.30 L134.48,460.69 L135.89,462.06 L137.30,463.40 L138.71,464.72 L140.12,466.01 L141.54,467.27 L142.95,468.52 L144.36,469.74 L145.77,470.94 L147.18,472.11 L148.59,473.27 L150.01,474.40 L151.42,475.51 L152.83,476.61 L154.24,477.68 L155.65,478.74 L157.06,479.77 L158.48,480.79 L159.89,481.79 L161.30,482.77 L162.71,483.73 L164.12,484.68 L165.53,485.61 L166.95,486.52 L168.36,487.42 L169.77,488.31 L171.18,489.17 L172.59,490.03 L174.00,490.86 L175.42,491.68 L176.83,492.49 L178.24,493.28 L179.65,494.05 L181.06,494.81 L182.47,495.55 L183.88,496.27 L185.30,496.98 L186.71,497.68 L188.12,498.36 L189.53,499.03 L190.94,499.68 L192.35,500.32 L193.77,500.94 L195.18,501.56 L196.59,502.16 L198.00,502.74 L199.41,503.32 L200.82,503.88 L202.24,504.43 L203.65,504.97 L205.06,505.50 L206.47,506.02 L207.88,506.53 L209.29,507.03 L210.71,507.52 L212.12,507.99 L213.53,508.46 L214.94,508.92 L216.35,509.37 L217.76,509.82 L219.18,510.25 L220.59,510.67 L222.00,511.09 L223.41,511.50 L224.82,511.90 L226.23,512.29 L227.65,512.68 L229.06,513.05 L230.47,513.42 L231.88,513.79 L233.29,514.14 L234.70,514.49 L236.12,514.84 L237.53,515.17 L238.94,515.50 L240.35,515.83 L241.76,516.15 L243.17,516.46 L244.59,516.77 L246.00,517.07 L247.41,517.36 L248.82,517.65 L250.23,517.94 L251.64,518.22 L253.06,518.49 L254.47,518.76 L255.88,519.03 L257.29,519.29 L258.70,519.54 L260.11,519.79 L261.53,520.04 L262.94,520.28 L264.35,520.52 L265.76,520.75 L267.17,520.98 L268.58,521.21 L270.00,521.43 L271.41,521.64 L272.82,521.86 L274.23,522.07 L275.64,522.27 L277.05,522.47 L278.47,522.67 L279.88,522.86 L281.29,523.05 L282.70,523.24 L284.11,523.42 L285.52,523.60 L286.93,523.78 L288.35,523.95 L289.76,524.12 L291.17,524.28 L292.58,524.45 L293.99,524.61 L295.40,524.76 L296.82,524.91 L298.23,525.07 L299.64,525.21 L301.05,525.36 L302.46,525.50 L303.87,525.64 L305.29,525.77 L306.70,525.90 L308.11,526.03 L309.52,526.16 L310.93,526.29 L312.34,526.41 L313.76,526.53 L315.17,526.64 L316.58,526.76 L317.99,526.87 L319.40,526.98 L320.81,527.09 L322.23,527.19 L323.64,527.29 L325.05,527.39 L326.46,527.49 L327.87,527.58 L329.28,527.67 L330.70,527.76 L332.11,527.85 L333.52,527.94 L334.93,528.02 L336.34,528.10 L337.75,528.18 L339.17,528.26 L340.58,528.33 L341.99,528.40 L343.40,528.47 L344.81,528.54 L346.22,528.61 L347.64,528.67 L349.05,528.73 L350.46,528.79 L351.87,528.85 L353.28,528.90 L354.69,528.96 L356.11,529.01 L357.52,529.06 L358.93,529.11 L360.34,529.15 L361.75,529.20 L363.16,529.24 L364.58,529.28 L365.99,529.32 L367.40,529.35 L368.81,529.39 L370.22,529.42 L371.63,529.45 L373.05,529.48 L374.46,529.51 L375.87,529.53 L377.28,529.55 L378.69,529.58 L380.10,529.59 L381.52,529.61 L382.93,529.63 L384.34,529.64 L385.75,529.65" fill="none" stroke="#00c8c8" stroke-width="2.35" stroke-linecap="butt" stroke-linejoin="round" stroke-dasharray="2.3 3.2"/>
<path d="M76.60,282.82 L78.01,287.60 L79.42,292.30 L80.83,296.89 L82.25,301.40 L83.66,305.81 L85.07,310.13 L86.48,314.37 L87.89,318.51 L89.30,322.57 L90.72,326.54 L92.13,330.43 L93.54,334.24 L94.95,337.97 L96.36,341.61 L97.77,345.18 L99.19,348.67 L100.60,352.08 L102.01,355.42 L103.42,358.68 L104.83,361.88 L106.24,365.00 L107.66,368.06 L109.07,371.05 L110.48,373.98 L111.89,376.84 L113.30,379.65 L114.71,382.40 L116.13,385.09 L117.54,387.73 L118.95,390.32 L120.36,392.85 L121.77,395.34 L123.18,397.78 L124.60,400.17 L126.01,402.51 L127.42,404.81 L128.83,407.07 L130.24,409.28 L131.65,411.45 L133.07,413.58 L134.48,415.67 L135.89,417.72 L137.30,419.73 L138.71,421.70 L140.12,423.64 L141.54,425.54 L142.95,427.40 L144.36,429.23 L145.77,431.03 L147.18,432.79 L148.59,434.53 L150.01,436.23 L151.42,437.90 L152.83,439.54 L154.24,441.15 L155.65,442.73 L157.06,444.28 L158.48,445.81 L159.89,447.31 L161.30,448.78 L162.71,450.22 L164.12,451.64 L165.53,453.04 L166.95,454.41 L168.36,455.76 L169.77,457.08 L171.18,458.39 L172.59,459.66 L174.00,460.92 L175.42,462.15 L176.83,463.36 L178.24,464.54 L179.65,465.70 L181.06,466.84 L182.47,467.95 L183.88,469.04 L185.30,470.10 L186.71,471.14 L188.12,472.17 L189.53,473.16 L190.94,474.14 L192.35,475.10 L193.77,476.04 L195.18,476.96 L196.59,477.86 L198.00,478.74 L199.41,479.60 L200.82,480.45 L202.24,481.27 L203.65,482.09 L205.06,482.88 L206.47,483.66 L207.88,484.42 L209.29,485.17 L210.71,485.90 L212.12,486.62 L213.53,487.32 L214.94,488.01 L216.35,488.69 L217.76,489.35 L219.18,490.00 L220.59,490.63 L222.00,491.26 L223.41,491.87 L224.82,492.47 L226.23,493.06 L227.65,493.64 L229.06,494.21 L230.47,494.76 L231.88,495.31 L233.29,495.84 L234.70,496.37 L236.12,496.88 L237.53,497.39 L238.94,497.88 L240.35,498.37 L241.76,498.85 L243.17,499.32 L244.59,499.78 L246.00,500.23 L247.41,500.67 L248.82,501.11 L250.23,501.53 L251.64,501.95 L253.06,502.37 L254.47,502.77 L255.88,503.17 L257.29,503.56 L258.70,503.94 L260.11,504.32 L261.53,504.69 L262.94,505.05 L264.35,505.41 L265.76,505.76 L267.17,506.10 L268.58,506.44 L270.00,506.77 L271.41,507.09 L272.82,507.41 L274.23,507.72 L275.64,508.03 L277.05,508.33 L278.47,508.63 L279.88,508.92 L281.29,509.20 L282.70,509.48 L284.11,509.76 L285.52,510.02 L286.93,510.29 L288.35,510.55 L289.76,510.80 L291.17,511.05 L292.58,511.29 L293.99,511.53 L295.40,511.77 L296.82,512.00 L298.23,512.22 L299.64,512.44 L301.05,512.66 L302.46,512.87 L303.87,513.08 L305.29,513.28 L306.70,513.48 L308.11,513.68 L309.52,513.87 L310.93,514.05 L312.34,514.24 L313.76,514.42 L315.17,514.59 L316.58,514.76 L317.99,514.93 L319.40,515.09 L320.81,515.25 L322.23,515.41 L323.64,515.56 L325.05,515.71 L326.46,515.86 L327.87,516.00 L329.28,516.14 L330.70,516.27 L332.11,516.40 L333.52,516.53 L334.93,516.65 L336.34,516.78 L337.75,516.89 L339.17,517.01 L340.58,517.12 L341.99,517.23 L343.40,517.33 L344.81,517.43 L346.22,517.53 L347.64,517.63 L349.05,517.72 L350.46,517.81 L351.87,517.90 L353.28,517.98 L354.69,518.06 L356.11,518.14 L357.52,518.21 L358.93,518.29 L360.34,518.35 L361.75,518.42 L363.16,518.48 L364.58,518.54 L365.99,518.60 L367.40,518.65 L368.81,518.71 L370.22,518.75 L371.63,518.80 L373.05,518.84 L374.46,518.88 L375.87,518.92 L377.28,518.96 L378.69,518.99 L380.10,519.02 L381.52,519.04 L382.93,519.07 L384.34,519.09 L385.75,519.11" fill="none" stroke="#00c8c8" stroke-width="3.3" stroke-linecap="butt" stroke-linejoin="round"/>
<path d="M76.60,443.91 L77.37,444.68 L78.15,445.44 L78.92,446.20 L79.70,446.94 L80.47,447.68 L81.25,448.41 L82.02,449.13 L82.80,449.84 L83.57,450.54 L84.35,451.24 L85.12,451.93 L85.90,452.62 L86.67,453.30 L87.45,453.97 L88.22,454.63 L89.00,455.29 L89.77,455.94 L90.55,456.59 L91.32,457.23 L92.10,457.87 L92.87,458.50 L93.65,459.12 L94.42,459.74 L95.20,460.35 L95.97,460.96 L96.75,461.56 L97.52,462.16 L98.29,462.76 L99.07,463.34 L99.84,463.93 L100.62,464.51 L101.39,465.08 L102.17,465.65 L102.94,466.22 L103.72,466.79 L104.49,467.34 L105.27,467.90 L106.04,468.45 L106.82,469.00 L107.59,469.54 L108.37,470.08 L109.14,470.62 L109.92,471.15 L110.69,471.69 L111.47,472.21 L112.24,472.74 L113.02,473.26 L113.79,473.78 L114.57,474.29 L115.34,474.81 L116.12,475.32 L116.89,475.82 L117.67,476.33 L118.44,476.83 L119.21,477.33 L119.99,477.83 L120.76,478.32 L121.54,478.81 L122.31,479.30 L123.09,479.79 L123.86,480.28 L124.64,480.76 L125.41,481.24 L126.19,481.71 L126.96,482.18 L127.74,482.65 L128.51,483.12 L129.29,483.58 L130.06,484.04 L130.84,484.49 L131.61,484.94 L132.39,485.39 L133.16,485.83 L133.94,486.27 L134.71,486.70 L135.49,487.13 L136.26,487.56 L137.04,487.98 L137.81,488.39 L138.58,488.80 L139.36,489.21 L140.13,489.61 L140.91,490.01 L141.68,490.40 L142.46,490.79 L143.23,491.17 L144.01,491.54 L144.78,491.92 L145.56,492.29 L146.33,492.65 L147.11,493.01 L147.88,493.37 L148.66,493.72 L149.43,494.07 L150.21,494.41 L150.98,494.75 L151.76,495.09 L152.53,495.43 L153.31,495.76 L154.08,496.09 L154.86,496.41 L155.63,496.73 L156.41,497.05 L157.18,497.37 L157.96,497.68 L158.73,497.99 L159.50,498.30 L160.28,498.61 L161.05,498.91 L161.83,499.21 L162.60,499.51 L163.38,499.81 L164.15,500.10 L164.93,500.39 L165.70,500.68 L166.48,500.97 L167.25,501.26 L168.03,501.54 L168.80,501.83 L169.58,502.11 L170.35,502.39 L171.13,502.66 L171.90,502.94 L172.68,503.22 L173.45,503.49 L174.23,503.76 L175.00,504.03 L175.78,504.30 L176.55,504.56 L177.33,504.82 L178.10,505.09 L178.88,505.34 L179.65,505.60 L180.42,505.86 L181.20,506.11 L181.97,506.36 L182.75,506.61 L183.52,506.86 L184.30,507.10 L185.07,507.34 L185.85,507.58 L186.62,507.82 L187.40,508.05 L188.17,508.29 L188.95,508.52 L189.72,508.74 L190.50,508.97 L191.27,509.19 L192.05,509.41 L192.82,509.63 L193.60,509.84 L194.37,510.06 L195.15,510.27 L195.92,510.47 L196.70,510.68 L197.47,510.88 L198.25,511.08 L199.02,511.28 L199.80,511.47 L200.57,511.66 L201.34,511.85 L202.12,512.04 L202.89,512.23 L203.67,512.41 L204.44,512.59 L205.22,512.77 L205.99,512.94 L206.77,513.11 L207.54,513.29 L208.32,513.45 L209.09,513.62 L209.87,513.79 L210.64,513.95 L211.42,514.11 L212.19,514.27 L212.97,514.43 L213.74,514.58 L214.52,514.74 L215.29,514.89 L216.07,515.04 L216.84,515.18 L217.62,515.33 L218.39,515.48 L219.17,515.62 L219.94,515.76 L220.72,515.90 L221.49,516.04 L222.26,516.18 L223.04,516.31 L223.81,516.44 L224.59,516.58 L225.36,516.71 L226.14,516.84 L226.91,516.97 L227.69,517.09" fill="none" stroke="#ff00ff" stroke-width="3.3" stroke-linecap="butt" stroke-linejoin="round" stroke-dasharray="24.4 7.6"/>
<path d="M227.69,517.09 L228.46,517.22 L229.24,517.34 L230.01,517.46 L230.79,517.59 L231.56,517.71 L232.34,517.83 L233.11,517.94 L233.89,518.06 L234.66,518.18 L235.44,518.29 L236.21,518.41 L236.99,518.52 L237.76,518.63 L238.54,518.74 L239.31,518.85 L240.09,518.96 L240.86,519.07 L241.63,519.17 L242.41,519.28 L243.18,519.38 L243.96,519.49 L244.73,519.59 L245.51,519.69 L246.28,519.80 L247.06,519.90 L247.83,520.00 L248.61,520.10 L249.38,520.19 L250.16,520.29 L250.93,520.39 L251.71,520.48 L252.48,520.58 L253.26,520.68 L254.03,520.77 L254.81,520.86 L255.58,520.96 L256.36,521.05 L257.13,521.14 L257.91,521.23 L258.68,521.32 L259.46,521.41 L260.23,521.50 L261.01,521.59 L261.78,521.67 L262.55,521.76 L263.33,521.85 L264.10,521.93 L264.88,522.02 L265.65,522.10 L266.43,522.18 L267.20,522.26 L267.98,522.34 L268.75,522.42 L269.53,522.50 L270.30,522.58 L271.08,522.66 L271.85,522.73 L272.63,522.81 L273.40,522.88 L274.18,522.96 L274.95,523.03 L275.73,523.10 L276.50,523.17 L277.28,523.24 L278.05,523.31 L278.83,523.38 L279.60,523.45 L280.38,523.51 L281.15,523.58 L281.93,523.64 L282.70,523.71 L283.47,523.77 L284.25,523.83 L285.02,523.89 L285.80,523.95 L286.57,524.01 L287.35,524.06 L288.12,524.12 L288.90,524.18 L289.67,524.23 L290.45,524.28 L291.22,524.33 L292.00,524.38 L292.77,524.43 L293.55,524.48 L294.32,524.53 L295.10,524.58 L295.87,524.62 L296.65,524.67 L297.42,524.71 L298.20,524.75 L298.97,524.79 L299.75,524.83 L300.52,524.87 L301.30,524.91 L302.07,524.94 L302.85,524.98 L303.62,525.01 L304.39,525.04 L305.17,525.07 L305.94,525.10 L306.72,525.13 L307.49,525.16 L308.27,525.19 L309.04,525.21 L309.82,525.23 L310.59,525.26 L311.37,525.28 L312.14,525.30 L312.92,525.32 L313.69,525.33 L314.47,525.35 L315.24,525.36 L316.02,525.38 L316.79,525.39 L317.57,525.40 L318.34,525.41 L319.12,525.41 L319.89,525.42 L320.67,525.42 L321.44,525.43 L322.22,525.43 L322.99,525.43 L323.77,525.43 L324.54,525.43 L325.31,525.42 L326.09,525.42 L326.86,525.41 L327.64,525.40 L328.41,525.39 L329.19,525.38 L329.96,525.36 L330.74,525.35 L331.51,525.33 L332.29,525.31 L333.06,525.29 L333.84,525.27 L334.61,525.25 L335.39,525.23 L336.16,525.20 L336.94,525.18 L337.71,525.15 L338.49,525.13 L339.26,525.10 L340.04,525.07 L340.81,525.05 L341.59,525.02 L342.36,524.99 L343.14,524.96 L343.91,524.93 L344.68,524.90 L345.46,524.87 L346.23,524.85 L347.01,524.82 L347.78,524.79 L348.56,524.76 L349.33,524.74 L350.11,524.71 L350.88,524.69 L351.66,524.66 L352.43,524.64 L353.21,524.62 L353.98,524.60 L354.76,524.58 L355.53,524.56 L356.31,524.54 L357.08,524.53 L357.86,524.52 L358.63,524.50 L359.41,524.50 L360.18,524.49 L360.96,524.48 L361.73,524.48 L362.51,524.48 L363.28,524.48 L364.06,524.48 L364.83,524.49 L365.60,524.50 L366.38,524.51 L367.15,524.53 L367.93,524.54 L368.70,524.57 L369.48,524.59 L370.25,524.62 L371.03,524.65 L371.80,524.68 L372.58,524.72 L373.35,524.76 L374.13,524.80 L374.90,524.85 L375.68,524.90 L376.45,524.96 L377.23,525.02 L378.00,525.08 L378.78,525.15 L379.55,525.22 L380.33,525.30 L381.10,525.38 L381.88,525.46 L382.65,525.55 L383.43,525.65 L384.20,525.74 L384.98,525.84 L385.75,525.95" fill="none" stroke="#ff00ff" stroke-width="3.3" stroke-linecap="butt" stroke-linejoin="round" stroke-dasharray="24.4 7.6"/>
<path d="M76.60,404.72 L78.54,407.39 L80.49,410.10 L82.43,412.83 L84.38,415.57 L86.32,418.32 L88.27,421.06 L90.21,423.79 L92.15,426.49 L94.10,429.16 L96.04,431.79 L97.99,434.37 L99.93,436.90 L101.88,439.37 L103.82,441.78 L105.77,444.12 L107.71,446.39 L109.65,448.59 L111.60,450.73 L113.54,452.81 L115.49,454.83 L117.43,456.78 L119.38,458.69 L121.32,460.53 L123.26,462.33 L125.21,464.07 L127.15,465.77 L129.10,467.42 L131.04,469.02 L132.99,470.58 L134.93,472.09 L136.87,473.57 L138.82,475.00 L140.76,476.40 L142.71,477.75 L144.65,479.08 L146.60,480.36 L148.54,481.62 L150.48,482.84 L152.43,484.02 L154.37,485.18 L156.32,486.30 L158.26,487.40 L160.21,488.46 L162.15,489.50 L164.10,490.50 L166.04,491.48 L167.98,492.44 L169.93,493.36 L171.87,494.26 L173.82,495.13 L175.76,495.98 L177.71,496.81 L179.65,497.61 L181.59,498.38 L183.54,499.14 L185.48,499.87 L187.43,500.58 L189.37,501.26 L191.32,501.93 L193.26,502.58 L195.20,503.20 L197.15,503.81 L199.09,504.39 L201.04,504.96 L202.98,505.50 L204.93,506.03 L206.87,506.55 L208.82,507.04 L210.76,507.52 L212.70,507.99 L214.65,508.45 L216.59,508.89 L218.54,509.32 L220.48,509.73 L222.43,510.14 L224.37,510.54 L226.31,510.93 L228.26,511.31 L230.20,511.68 L232.15,512.04 L234.09,512.39 L236.04,512.74 L237.98,513.09 L239.92,513.42 L241.87,513.75 L243.81,514.08 L245.76,514.40 L247.70,514.72 L249.65,515.03 L251.59,515.34 L253.53,515.65 L255.48,515.95 L257.42,516.24 L259.37,516.53 L261.31,516.82 L263.26,517.10 L265.20,517.37 L267.15,517.64 L269.09,517.91 L271.03,518.17 L272.98,518.42 L274.92,518.67 L276.87,518.91 L278.81,519.14 L280.76,519.37 L282.70,519.59 L284.64,519.81 L286.59,520.02 L288.53,520.23 L290.48,520.43 L292.42,520.62 L294.37,520.80 L296.31,520.98 L298.25,521.15 L300.20,521.32 L302.14,521.48 L304.09,521.63 L306.03,521.78 L307.98,521.92 L309.92,522.05 L311.87,522.17 L313.81,522.29 L315.75,522.40 L317.70,522.51 L319.64,522.61 L321.59,522.71 L323.53,522.80 L325.48,522.89 L327.42,522.98 L329.36,523.06 L331.31,523.13 L333.25,523.20 L335.20,523.27 L337.14,523.34 L339.09,523.40 L341.03,523.46 L342.97,523.52 L344.92,523.58 L346.86,523.63 L348.81,523.68 L350.75,523.74 L352.70,523.79 L354.64,523.83 L356.58,523.88 L358.53,523.93 L360.47,523.97 L362.42,524.02 L364.36,524.07 L366.31,524.11 L368.25,524.16 L370.20,524.21 L372.14,524.25 L374.08,524.30 L376.03,524.35 L377.97,524.40 L379.92,524.46 L381.86,524.51 L383.81,524.57 L385.75,524.63" fill="none" stroke="#0000ff" stroke-width="3.3" stroke-linecap="butt" stroke-linejoin="round"/>
<path d="M76.60,515.48 L78.54,515.52 L80.49,515.56 L82.43,515.59 L84.38,515.63 L86.32,515.67 L88.27,515.70 L90.21,515.74 L92.15,515.78 L94.10,515.82 L96.04,515.85 L97.99,515.89 L99.93,515.93 L101.88,515.97 L103.82,516.01 L105.77,516.05 L107.71,516.08 L109.65,516.12 L111.60,516.16 L113.54,516.20 L115.49,516.24 L117.43,516.28 L119.38,516.32 L121.32,516.36 L123.26,516.40 L125.21,516.43 L127.15,516.47 L129.10,516.51 L131.04,516.55 L132.99,516.59 L134.93,516.63 L136.87,516.67 L138.82,516.71 L140.76,516.75 L142.71,516.79 L144.65,516.83 L146.60,516.87 L148.54,516.91 L150.48,516.95 L152.43,517.00 L154.37,517.04 L156.32,517.08 L158.26,517.12 L160.21,517.16 L162.15,517.20 L164.10,517.24 L166.04,517.28 L167.98,517.32 L169.93,517.36 L171.87,517.40 L173.82,517.44 L175.76,517.48 L177.71,517.53 L179.65,517.57 L181.59,517.61 L183.54,517.65 L185.48,517.69 L187.43,517.73 L189.37,517.77 L191.32,517.81 L193.26,517.85 L195.20,517.89 L197.15,517.93 L199.09,517.98 L201.04,518.02 L202.98,518.06 L204.93,518.10 L206.87,518.14 L208.82,518.18 L210.76,518.22 L212.70,518.26 L214.65,518.30 L216.59,518.34 L218.54,518.38 L220.48,518.42 L222.43,518.46 L224.37,518.50 L226.31,518.54 L228.26,518.58 L230.20,518.62 L232.15,518.67 L234.09,518.71 L236.04,518.75 L237.98,518.79 L239.92,518.83 L241.87,518.86 L243.81,518.90 L245.76,518.94 L247.70,518.98 L249.65,519.02 L251.59,519.06 L253.53,519.10 L255.48,519.14 L257.42,519.18 L259.37,519.22 L261.31,519.26 L263.26,519.30 L265.20,519.34 L267.15,519.37 L269.09,519.41 L271.03,519.45 L272.98,519.49 L274.92,519.53 L276.87,519.56 L278.81,519.60 L280.76,519.64 L282.70,519.68 L284.64,519.71 L286.59,519.75 L288.53,519.79 L290.48,519.82 L292.42,519.86 L294.37,519.90 L296.31,519.93 L298.25,519.97 L300.20,520.01 L302.14,520.04 L304.09,520.08 L306.03,520.11 L307.98,520.15 L309.92,520.18 L311.87,520.22 L313.81,520.25 L315.75,520.29 L317.70,520.32 L319.64,520.36 L321.59,520.39 L323.53,520.42 L325.48,520.46 L327.42,520.49 L329.36,520.52 L331.31,520.56 L333.25,520.59 L335.20,520.62 L337.14,520.65 L339.09,520.69 L341.03,520.72 L342.97,520.75 L344.92,520.78 L346.86,520.81 L348.81,520.84 L350.75,520.87 L352.70,520.90 L354.64,520.93 L356.58,520.96 L358.53,520.99 L360.47,521.02 L362.42,521.05 L364.36,521.08 L366.31,521.11 L368.25,521.14 L370.20,521.16 L372.14,521.19 L374.08,521.22 L376.03,521.25 L377.97,521.27 L379.92,521.30 L381.86,521.33 L383.81,521.35 L385.75,521.38" fill="none" stroke="#00ff00" stroke-width="3.3" stroke-linecap="butt" stroke-linejoin="round" stroke-dasharray="11 6.2"/>
<path d="M76.60,428.43 L78.54,429.72 L80.49,431.11 L82.43,432.57 L84.38,434.09 L86.32,435.66 L88.27,437.25 L90.21,438.86 L92.15,440.47 L94.10,442.08 L96.04,443.68 L97.99,445.26 L99.93,446.81 L101.88,448.34 L103.82,449.82 L105.77,451.27 L107.71,452.68 L109.65,454.05 L111.60,455.39 L113.54,456.70 L115.49,457.99 L117.43,459.27 L119.38,460.54 L121.32,461.81 L123.26,463.07 L125.21,464.34 L127.15,465.61 L129.10,466.90 L131.04,468.19 L132.99,469.47 L134.93,470.76 L136.87,472.02 L138.82,473.27 L140.76,474.50 L142.71,475.70 L144.65,476.86 L146.60,477.99 L148.54,479.08 L150.48,480.13 L152.43,481.13 L154.37,482.10 L156.32,483.04 L158.26,483.94 L160.21,484.80 L162.15,485.64 L164.10,486.45 L166.04,487.23 L167.98,487.98 L169.93,488.71 L171.87,489.41 L173.82,490.09 L175.76,490.75 L177.71,491.39 L179.65,492.02 L181.59,492.62 L183.54,493.20 L185.48,493.77 L187.43,494.33 L189.37,494.87 L191.32,495.40 L193.26,495.91 L195.20,496.41 L197.15,496.90 L199.09,497.39 L201.04,497.86 L202.98,498.32 L204.93,498.77 L206.87,499.22 L208.82,499.66 L210.76,500.10 L212.70,500.52 L214.65,500.95 L216.59,501.37 L218.54,501.78 L220.48,502.19 L222.43,502.60 L224.37,503.00 L226.31,503.39 L228.26,503.78 L230.20,504.17 L232.15,504.55 L234.09,504.93 L236.04,505.30 L237.98,505.66 L239.92,506.02 L241.87,506.38 L243.81,506.73 L245.76,507.07 L247.70,507.41 L249.65,507.75 L251.59,508.07 L253.53,508.40 L255.48,508.72 L257.42,509.03 L259.37,509.33 L261.31,509.63 L263.26,509.93 L265.20,510.22 L267.15,510.50 L269.09,510.78 L271.03,511.06 L272.98,511.32 L274.92,511.58 L276.87,511.84 L278.81,512.09 L280.76,512.34 L282.70,512.58 L284.64,512.81 L286.59,513.04 L288.53,513.26 L290.48,513.48 L292.42,513.69 L294.37,513.89 L296.31,514.09 L298.25,514.29 L300.20,514.48 L302.14,514.66 L304.09,514.84 L306.03,515.01 L307.98,515.18 L309.92,515.34 L311.87,515.49 L313.81,515.64 L315.75,515.78 L317.70,515.92 L319.64,516.05 L321.59,516.18 L323.53,516.30 L325.48,516.41 L327.42,516.52 L329.36,516.62 L331.31,516.72 L333.25,516.81 L335.20,516.90 L337.14,516.97 L339.09,517.05 L341.03,517.11 L342.97,517.17 L344.92,517.23 L346.86,517.28 L348.81,517.32 L350.75,517.35 L352.70,517.38 L354.64,517.41 L356.58,517.42 L358.53,517.43 L360.47,517.43 L362.42,517.43 L364.36,517.42 L366.31,517.40 L368.25,517.38 L370.20,517.35 L372.14,517.31 L374.08,517.26 L376.03,517.21 L377.97,517.15 L379.92,517.08 L381.86,517.00 L383.81,516.92 L385.75,516.83" fill="none" stroke="#ff8c00" stroke-width="3.3" stroke-linecap="butt" stroke-linejoin="round"/>
</g>
<g clip-path="url(#c3)">
<path d="M76.60,469.91 L78.01,475.28 L79.42,480.54 L80.83,485.68 L82.25,490.72 L83.66,495.66 L85.07,500.49 L86.48,505.23 L87.89,509.87 L89.30,514.41 L90.72,518.86 L92.13,523.23 L93.54,527.50 L94.95,531.69 L96.36,535.79 L97.77,539.81 L99.19,543.75 L100.60,547.62 L102.01,551.41 L103.42,555.12 L104.83,558.76 L106.24,562.32 L107.66,565.82 L109.07,569.25 L110.48,572.61 L111.89,575.91 L113.30,579.14 L114.71,582.32 L116.13,585.43 L117.54,588.48 L118.95,591.47 L120.36,594.40 L121.77,597.28 L123.18,600.11 L124.60,602.88 L126.01,605.60 L127.42,608.26 L128.83,610.88 L130.24,613.45 L131.65,615.97 L133.07,618.44 L134.48,620.87 L135.89,623.25 L137.30,625.59 L138.71,627.89 L140.12,630.14 L141.54,632.35 L142.95,634.52 L144.36,636.66 L145.77,638.75 L147.18,640.80 L148.59,642.82 L150.01,644.80 L151.42,646.75 L152.83,648.66 L154.24,650.54 L155.65,652.38 L157.06,654.19 L158.48,655.97 L159.89,657.71 L161.30,659.43 L162.71,661.11 L164.12,662.77 L165.53,664.39 L166.95,665.99 L168.36,667.56 L169.77,669.10 L171.18,670.61 L172.59,672.10 L174.00,673.56 L175.42,675.00 L176.83,676.41 L178.24,677.80 L179.65,679.16 L181.06,680.50 L182.47,681.82 L183.88,683.11 L185.30,684.38 L186.71,685.63 L188.12,686.86 L189.53,688.06 L190.94,689.25 L192.35,690.42 L193.77,691.56 L195.18,692.69 L196.59,693.80 L198.00,694.88 L199.41,695.95 L200.82,697.01 L202.24,698.04 L203.65,699.06 L205.06,700.05 L206.47,701.04 L207.88,702.00 L209.29,702.95 L210.71,703.88 L212.12,704.80 L213.53,705.70 L214.94,706.59 L216.35,707.46 L217.76,708.32 L219.18,709.16 L220.59,709.99 L222.00,710.80 L223.41,711.60 L224.82,712.39 L226.23,713.16 L227.65,713.92 L229.06,714.67 L230.47,715.41 L231.88,716.13 L233.29,716.84 L234.70,717.54 L236.12,718.22 L237.53,718.90 L238.94,719.56 L240.35,720.21 L241.76,720.85 L243.17,721.48 L244.59,722.10 L246.00,722.71 L247.41,723.31 L248.82,723.90 L250.23,724.47 L251.64,725.04 L253.06,725.60 L254.47,726.15 L255.88,726.69 L257.29,727.21 L258.70,727.73 L260.11,728.24 L261.53,728.75 L262.94,729.24 L264.35,729.72 L265.76,730.20 L267.17,730.66 L268.58,731.12 L270.00,731.57 L271.41,732.02 L272.82,732.45 L274.23,732.87 L275.64,733.29 L277.05,733.70 L278.47,734.11 L279.88,734.50 L281.29,734.89 L282.70,735.27 L284.11,735.64 L285.52,736.01 L286.93,736.37 L288.35,736.72 L289.76,737.07 L291.17,737.40 L292.58,737.74 L293.99,738.06 L295.40,738.38 L296.82,738.69 L298.23,739.00 L299.64,739.30 L301.05,739.59 L302.46,739.88 L303.87,740.16 L305.29,740.43 L306.70,740.70 L308.11,740.97 L309.52,741.22 L310.93,741.48 L312.34,741.72 L313.76,741.96 L315.17,742.20 L316.58,742.43 L317.99,742.65 L319.40,742.87 L320.81,743.08 L322.23,743.29 L323.64,743.49 L325.05,743.69 L326.46,743.88 L327.87,744.07 L329.28,744.25 L330.70,744.43 L332.11,744.60 L333.52,744.77 L334.93,744.93 L336.34,745.09 L337.75,745.24 L339.17,745.39 L340.58,745.53 L341.99,745.67 L343.40,745.80 L344.81,745.93 L346.22,746.06 L347.64,746.18 L349.05,746.29 L350.46,746.40 L351.87,746.51 L353.28,746.61 L354.69,746.71 L356.11,746.80 L357.52,746.89 L358.93,746.98 L360.34,747.06 L361.75,747.14 L363.16,747.21 L364.58,747.28 L365.99,747.34 L367.40,747.40 L368.81,747.46 L370.22,747.51 L371.63,747.56 L373.05,747.60 L374.46,747.64 L375.87,747.68 L377.28,747.71 L378.69,747.74 L380.10,747.76 L381.52,747.78 L382.93,747.80 L384.34,747.81 L385.75,747.82" fill="none" stroke="#00c8c8" stroke-width="2.35" stroke-linecap="butt" stroke-linejoin="round" stroke-dasharray="2.3 3.2"/>
<path d="M76.60,647.71 L78.01,650.39 L79.42,653.02 L80.83,655.59 L82.25,658.11 L83.66,660.58 L85.07,663.00 L86.48,665.36 L87.89,667.68 L89.30,669.96 L90.72,672.18 L92.13,674.36 L93.54,676.50 L94.95,678.59 L96.36,680.65 L97.77,682.66 L99.19,684.63 L100.60,686.56 L102.01,688.45 L103.42,690.31 L104.83,692.13 L106.24,693.91 L107.66,695.66 L109.07,697.38 L110.48,699.06 L111.89,700.71 L113.30,702.32 L114.71,703.91 L116.13,705.46 L117.54,706.99 L118.95,708.48 L120.36,709.95 L121.77,711.39 L123.18,712.80 L124.60,714.19 L126.01,715.55 L127.42,716.88 L128.83,718.19 L130.24,719.47 L131.65,720.73 L133.07,721.97 L134.48,723.19 L135.89,724.38 L137.30,725.55 L138.71,726.69 L140.12,727.82 L141.54,728.93 L142.95,730.01 L144.36,731.08 L145.77,732.12 L147.18,733.15 L148.59,734.16 L150.01,735.15 L151.42,736.12 L152.83,737.08 L154.24,738.02 L155.65,738.94 L157.06,739.84 L158.48,740.73 L159.89,741.61 L161.30,742.46 L162.71,743.31 L164.12,744.13 L165.53,744.95 L166.95,745.74 L168.36,746.53 L169.77,747.30 L171.18,748.06 L172.59,748.80 L174.00,749.53 L175.42,750.25 L176.83,750.95 L178.24,751.65 L179.65,752.33 L181.06,753.00 L182.47,753.66 L183.88,754.30 L185.30,754.94 L186.71,755.56 L188.12,756.18 L189.53,756.78 L190.94,757.38 L192.35,757.96 L193.77,758.53 L195.18,759.09 L196.59,759.65 L198.00,760.19 L199.41,760.73 L200.82,761.25 L202.24,761.77 L203.65,762.28 L205.06,762.78 L206.47,763.27 L207.88,763.75 L209.29,764.23 L210.71,764.69 L212.12,765.15 L213.53,765.60 L214.94,766.05 L216.35,766.48 L217.76,766.91 L219.18,767.33 L220.59,767.74 L222.00,768.15 L223.41,768.55 L224.82,768.95 L226.23,769.33 L227.65,769.71 L229.06,770.09 L230.47,770.45 L231.88,770.81 L233.29,771.17 L234.70,771.52 L236.12,771.86 L237.53,772.20 L238.94,772.53 L240.35,772.86 L241.76,773.18 L243.17,773.49 L244.59,773.80 L246.00,774.11 L247.41,774.40 L248.82,774.70 L250.23,774.99 L251.64,775.27 L253.06,775.55 L254.47,775.82 L255.88,776.09 L257.29,776.36 L258.70,776.62 L260.11,776.87 L261.53,777.12 L262.94,777.37 L264.35,777.61 L265.76,777.85 L267.17,778.08 L268.58,778.31 L270.00,778.54 L271.41,778.76 L272.82,778.97 L274.23,779.19 L275.64,779.40 L277.05,779.60 L278.47,779.80 L279.88,780.00 L281.29,780.19 L282.70,780.38 L284.11,780.57 L285.52,780.75 L286.93,780.93 L288.35,781.11 L289.76,781.28 L291.17,781.45 L292.58,781.62 L293.99,781.78 L295.40,781.94 L296.82,782.10 L298.23,782.25 L299.64,782.40 L301.05,782.55 L302.46,782.69 L303.87,782.83 L305.29,782.97 L306.70,783.10 L308.11,783.23 L309.52,783.36 L310.93,783.49 L312.34,783.61 L313.76,783.73 L315.17,783.85 L316.58,783.96 L317.99,784.07 L319.40,784.18 L320.81,784.29 L322.23,784.39 L323.64,784.50 L325.05,784.59 L326.46,784.69 L327.87,784.78 L329.28,784.87 L330.70,784.96 L332.11,785.05 L333.52,785.13 L334.93,785.21 L336.34,785.29 L337.75,785.37 L339.17,785.44 L340.58,785.51 L341.99,785.58 L343.40,785.65 L344.81,785.72 L346.22,785.78 L347.64,785.84 L349.05,785.90 L350.46,785.95 L351.87,786.00 L353.28,786.06 L354.69,786.11 L356.11,786.15 L357.52,786.20 L358.93,786.24 L360.34,786.28 L361.75,786.32 L363.16,786.35 L364.58,786.39 L365.99,786.42 L367.40,786.45 L368.81,786.48 L370.22,786.51 L371.63,786.53 L373.05,786.55 L374.46,786.57 L375.87,786.59 L377.28,786.61 L378.69,786.62 L380.10,786.63 L381.52,786.64 L382.93,786.65 L384.34,786.66 L385.75,786.66" fill="none" stroke="#00c8c8" stroke-width="2.35" stroke-linecap="butt" stroke-linejoin="round" stroke-dasharray="2.3 3.2"/>
<path d="M76.60,558.81 L78.01,562.84 L79.42,566.78 L80.83,570.64 L82.25,574.42 L83.66,578.12 L85.07,581.74 L86.48,585.30 L87.89,588.78 L89.30,592.18 L90.72,595.52 L92.13,598.79 L93.54,602.00 L94.95,605.14 L96.36,608.22 L97.77,611.23 L99.19,614.19 L100.60,617.09 L102.01,619.93 L103.42,622.71 L104.83,625.44 L106.24,628.12 L107.66,630.74 L109.07,633.31 L110.48,635.84 L111.89,638.31 L113.30,640.73 L114.71,643.11 L116.13,645.44 L117.54,647.73 L118.95,649.98 L120.36,652.18 L121.77,654.34 L123.18,656.45 L124.60,658.53 L126.01,660.57 L127.42,662.57 L128.83,664.54 L130.24,666.46 L131.65,668.35 L133.07,670.21 L134.48,672.03 L135.89,673.82 L137.30,675.57 L138.71,677.29 L140.12,678.98 L141.54,680.64 L142.95,682.27 L144.36,683.87 L145.77,685.44 L147.18,686.98 L148.59,688.49 L150.01,689.98 L151.42,691.44 L152.83,692.87 L154.24,694.28 L155.65,695.66 L157.06,697.02 L158.48,698.35 L159.89,699.66 L161.30,700.94 L162.71,702.21 L164.12,703.45 L165.53,704.67 L166.95,705.87 L168.36,707.04 L169.77,708.20 L171.18,709.33 L172.59,710.45 L174.00,711.55 L175.42,712.62 L176.83,713.68 L178.24,714.72 L179.65,715.74 L181.06,716.75 L182.47,717.74 L183.88,718.71 L185.30,719.66 L186.71,720.60 L188.12,721.52 L189.53,722.42 L190.94,723.31 L192.35,724.19 L193.77,725.05 L195.18,725.89 L196.59,726.72 L198.00,727.54 L199.41,728.34 L200.82,729.13 L202.24,729.90 L203.65,730.67 L205.06,731.42 L206.47,732.15 L207.88,732.88 L209.29,733.59 L210.71,734.29 L212.12,734.98 L213.53,735.65 L214.94,736.32 L216.35,736.97 L217.76,737.61 L219.18,738.25 L220.59,738.87 L222.00,739.48 L223.41,740.08 L224.82,740.67 L226.23,741.25 L227.65,741.82 L229.06,742.38 L230.47,742.93 L231.88,743.47 L233.29,744.01 L234.70,744.53 L236.12,745.04 L237.53,745.55 L238.94,746.05 L240.35,746.54 L241.76,747.02 L243.17,747.49 L244.59,747.95 L246.00,748.41 L247.41,748.86 L248.82,749.30 L250.23,749.73 L251.64,750.16 L253.06,750.57 L254.47,750.99 L255.88,751.39 L257.29,751.79 L258.70,752.18 L260.11,752.56 L261.53,752.93 L262.94,753.30 L264.35,753.67 L265.76,754.02 L267.17,754.37 L268.58,754.72 L270.00,755.05 L271.41,755.39 L272.82,755.71 L274.23,756.03 L275.64,756.34 L277.05,756.65 L278.47,756.95 L279.88,757.25 L281.29,757.54 L282.70,757.83 L284.11,758.11 L285.52,758.38 L286.93,758.65 L288.35,758.92 L289.76,759.17 L291.17,759.43 L292.58,759.68 L293.99,759.92 L295.40,760.16 L296.82,760.39 L298.23,760.62 L299.64,760.85 L301.05,761.07 L302.46,761.28 L303.87,761.49 L305.29,761.70 L306.70,761.90 L308.11,762.10 L309.52,762.29 L310.93,762.48 L312.34,762.67 L313.76,762.85 L315.17,763.02 L316.58,763.19 L317.99,763.36 L319.40,763.53 L320.81,763.69 L322.23,763.84 L323.64,763.99 L325.05,764.14 L326.46,764.29 L327.87,764.43 L329.28,764.56 L330.70,764.69 L332.11,764.82 L333.52,764.95 L334.93,765.07 L336.34,765.19 L337.75,765.30 L339.17,765.41 L340.58,765.52 L341.99,765.63 L343.40,765.73 L344.81,765.82 L346.22,765.92 L347.64,766.01 L349.05,766.09 L350.46,766.18 L351.87,766.26 L353.28,766.33 L354.69,766.41 L356.11,766.48 L357.52,766.55 L358.93,766.61 L360.34,766.67 L361.75,766.73 L363.16,766.78 L364.58,766.83 L365.99,766.88 L367.40,766.93 L368.81,766.97 L370.22,767.01 L371.63,767.04 L373.05,767.08 L374.46,767.11 L375.87,767.13 L377.28,767.16 L378.69,767.18 L380.10,767.20 L381.52,767.21 L382.93,767.23 L384.34,767.23 L385.75,767.24" fill="none" stroke="#00c8c8" stroke-width="3.3" stroke-linecap="butt" stroke-linejoin="round"/>
<path d="M76.60,719.56 L77.37,720.18 L78.15,720.79 L78.92,721.40 L79.70,722.00 L80.47,722.60 L81.25,723.19 L82.02,723.77 L82.80,724.35 L83.57,724.92 L84.35,725.49 L85.12,726.05 L85.90,726.61 L86.67,727.16 L87.45,727.71 L88.22,728.25 L89.00,728.78 L89.77,729.31 L90.55,729.84 L91.32,730.36 L92.10,730.88 L92.87,731.39 L93.65,731.90 L94.42,732.40 L95.20,732.89 L95.97,733.39 L96.75,733.88 L97.52,734.36 L98.29,734.84 L99.07,735.31 L99.84,735.78 L100.62,736.25 L101.39,736.71 L102.17,737.17 L102.94,737.62 L103.72,738.07 L104.49,738.51 L105.27,738.95 L106.04,739.39 L106.82,739.82 L107.59,740.25 L108.37,740.68 L109.14,741.10 L109.92,741.51 L110.69,741.93 L111.47,742.34 L112.24,742.74 L113.02,743.14 L113.79,743.54 L114.57,743.94 L115.34,744.33 L116.12,744.72 L116.89,745.10 L117.67,745.48 L118.44,745.86 L119.21,746.23 L119.99,746.60 L120.76,746.97 L121.54,747.33 L122.31,747.69 L123.09,748.05 L123.86,748.40 L124.64,748.75 L125.41,749.10 L126.19,749.45 L126.96,749.79 L127.74,750.12 L128.51,750.46 L129.29,750.79 L130.06,751.12 L130.84,751.45 L131.61,751.77 L132.39,752.09 L133.16,752.41 L133.94,752.72 L134.71,753.04 L135.49,753.34 L136.26,753.65 L137.04,753.95 L137.81,754.25 L138.58,754.55 L139.36,754.85 L140.13,755.14 L140.91,755.43 L141.68,755.72 L142.46,756.00 L143.23,756.29 L144.01,756.57 L144.78,756.84 L145.56,757.12 L146.33,757.39 L147.11,757.66 L147.88,757.93 L148.66,758.20 L149.43,758.46 L150.21,758.72 L150.98,758.98 L151.76,759.23 L152.53,759.49 L153.31,759.74 L154.08,759.99 L154.86,760.24 L155.63,760.48 L156.41,760.72 L157.18,760.96 L157.96,761.20 L158.73,761.44 L159.50,761.67 L160.28,761.91 L161.05,762.14 L161.83,762.36 L162.60,762.59 L163.38,762.81 L164.15,763.03 L164.93,763.25 L165.70,763.47 L166.48,763.69 L167.25,763.90 L168.03,764.12 L168.80,764.33 L169.58,764.53 L170.35,764.74 L171.13,764.95 L171.90,765.15 L172.68,765.35 L173.45,765.55 L174.23,765.75 L175.00,765.94 L175.78,766.14 L176.55,766.33 L177.33,766.52 L178.10,766.71 L178.88,766.89 L179.65,767.08 L180.42,767.26 L181.20,767.45 L181.97,767.63 L182.75,767.81 L183.52,767.98 L184.30,768.16 L185.07,768.33 L185.85,768.50 L186.62,768.67 L187.40,768.84 L188.17,769.01 L188.95,769.18 L189.72,769.34 L190.50,769.51 L191.27,769.67 L192.05,769.83 L192.82,769.99 L193.60,770.14 L194.37,770.30 L195.15,770.45 L195.92,770.61 L196.70,770.76 L197.47,770.91 L198.25,771.06 L199.02,771.20 L199.80,771.35 L200.57,771.49 L201.34,771.64 L202.12,771.78 L202.89,771.92 L203.67,772.06 L204.44,772.20 L205.22,772.33 L205.99,772.47 L206.77,772.60 L207.54,772.74 L208.32,772.87 L209.09,773.00 L209.87,773.13 L210.64,773.25 L211.42,773.38 L212.19,773.51 L212.97,773.63 L213.74,773.75 L214.52,773.88 L215.29,774.00 L216.07,774.11 L216.84,774.23 L217.62,774.35 L218.39,774.47 L219.17,774.58 L219.94,774.69 L220.72,774.81 L221.49,774.92 L222.26,775.03 L223.04,775.14 L223.81,775.24 L224.59,775.35 L225.36,775.46 L226.14,775.56 L226.91,775.67 L227.69,775.77 L228.46,775.87 L229.24,775.97 L230.01,776.07 L230.79,776.17 L231.56,776.26 L232.34,776.36 L233.11,776.46 L233.89,776.55" fill="none" stroke="#ff00ff" stroke-width="3.3" stroke-linecap="butt" stroke-linejoin="round" stroke-dasharray="24.4 7.6"/>
<path d="M233.89,776.55 L234.66,776.64 L235.44,776.74 L236.21,776.83 L236.99,776.92 L237.76,777.01 L238.54,777.10 L239.31,777.18 L240.09,777.27 L240.86,777.35 L241.63,777.44 L242.41,777.52 L243.18,777.60 L243.96,777.69 L244.73,777.77 L245.51,777.85 L246.28,777.93 L247.06,778.00 L247.83,778.08 L248.61,778.16 L249.38,778.23 L250.16,778.31 L250.93,778.38 L251.71,778.45 L252.48,778.52 L253.26,778.60 L254.03,778.67 L254.81,778.73 L255.58,778.80 L256.36,778.87 L257.13,778.94 L257.91,779.00 L258.68,779.07 L259.46,779.13 L260.23,779.19 L261.01,779.26 L261.78,779.32 L262.55,779.38 L263.33,779.44 L264.10,779.50 L264.88,779.56 L265.65,779.61 L266.43,779.67 L267.20,779.73 L267.98,779.78 L268.75,779.84 L269.53,779.89 L270.30,779.94 L271.08,779.99 L271.85,780.05 L272.63,780.10 L273.40,780.15 L274.18,780.19 L274.95,780.24 L275.73,780.29 L276.50,780.34 L277.28,780.38 L278.05,780.43 L278.83,780.47 L279.60,780.52 L280.38,780.56 L281.15,780.60 L281.93,780.64 L282.70,780.68 L283.47,780.72 L284.25,780.76 L285.02,780.80 L285.80,780.84 L286.57,780.88 L287.35,780.91 L288.12,780.95 L288.90,780.98 L289.67,781.02 L290.45,781.05 L291.22,781.09 L292.00,781.12 L292.77,781.15 L293.55,781.18 L294.32,781.21 L295.10,781.24 L295.87,781.27 L296.65,781.30 L297.42,781.32 L298.20,781.35 L298.97,781.38 L299.75,781.40 L300.52,781.43 L301.30,781.45 L302.07,781.48 L302.85,781.50 L303.62,781.52 L304.39,781.54 L305.17,781.56 L305.94,781.58 L306.72,781.60 L307.49,781.62 L308.27,781.64 L309.04,781.66 L309.82,781.68 L310.59,781.69 L311.37,781.71 L312.14,781.72 L312.92,781.74 L313.69,781.75 L314.47,781.76 L315.24,781.78 L316.02,781.79 L316.79,781.80 L317.57,781.81 L318.34,781.82 L319.12,781.83 L319.89,781.84 L320.67,781.85 L321.44,781.86 L322.22,781.86 L322.99,781.87 L323.77,781.88 L324.54,781.88 L325.31,781.89 L326.09,781.89 L326.86,781.89 L327.64,781.90 L328.41,781.90 L329.19,781.90 L329.96,781.90 L330.74,781.90 L331.51,781.90 L332.29,781.90 L333.06,781.90 L333.84,781.90 L334.61,781.89 L335.39,781.89 L336.16,781.89 L336.94,781.88 L337.71,781.88 L338.49,781.87 L339.26,781.87 L340.04,781.86 L340.81,781.85 L341.59,781.85 L342.36,781.84 L343.14,781.83 L343.91,781.82 L344.68,781.81 L345.46,781.80 L346.23,781.79 L347.01,781.77 L347.78,781.76 L348.56,781.75 L349.33,781.74 L350.11,781.72 L350.88,781.71 L351.66,781.69 L352.43,781.67 L353.21,781.66 L353.98,781.64 L354.76,781.62 L355.53,781.61 L356.31,781.59 L357.08,781.57 L357.86,781.55 L358.63,781.53 L359.41,781.51 L360.18,781.48 L360.96,781.46 L361.73,781.44 L362.51,781.42 L363.28,781.39 L364.06,781.37 L364.83,781.34 L365.60,781.32 L366.38,781.29 L367.15,781.26 L367.93,781.24 L368.70,781.21 L369.48,781.18 L370.25,781.15 L371.03,781.12 L371.80,781.09 L372.58,781.06 L373.35,781.03 L374.13,781.00 L374.90,780.96 L375.68,780.93 L376.45,780.90 L377.23,780.86 L378.00,780.83 L378.78,780.79 L379.55,780.76 L380.33,780.72 L381.10,780.68 L381.88,780.64 L382.65,780.61 L383.43,780.57 L384.20,780.53 L384.98,780.49 L385.75,780.45" fill="none" stroke="#ff00ff" stroke-width="3.3" stroke-linecap="butt" stroke-linejoin="round" stroke-dasharray="24.4 7.6"/>
<path d="M76.60,690.67 L78.54,693.03 L80.49,695.46 L82.43,697.94 L84.38,700.46 L86.32,703.00 L88.27,705.55 L90.21,708.11 L92.15,710.65 L94.10,713.18 L96.04,715.67 L97.99,718.13 L99.93,720.55 L101.88,722.91 L103.82,725.22 L105.77,727.46 L107.71,729.63 L109.65,731.73 L111.60,733.75 L113.54,735.70 L115.49,737.56 L117.43,739.36 L119.38,741.09 L121.32,742.77 L123.26,744.39 L125.21,745.98 L127.15,747.53 L129.10,749.04 L131.04,750.52 L132.99,751.96 L134.93,753.36 L136.87,754.72 L138.82,756.05 L140.76,757.35 L142.71,758.60 L144.65,759.82 L146.60,761.01 L148.54,762.16 L150.48,763.27 L152.43,764.35 L154.37,765.40 L156.32,766.41 L158.26,767.38 L160.21,768.33 L162.15,769.24 L164.10,770.11 L166.04,770.96 L167.98,771.77 L169.93,772.55 L171.87,773.30 L173.82,774.03 L175.76,774.74 L177.71,775.45 L179.65,776.16 L181.59,776.88 L183.54,777.60 L185.48,778.33 L187.43,779.05 L189.37,779.76 L191.32,780.45 L193.26,781.12 L195.20,781.77 L197.15,782.40 L199.09,782.99 L201.04,783.55 L202.98,784.09 L204.93,784.60 L206.87,785.08 L208.82,785.54 L210.76,785.99 L212.70,786.41 L214.65,786.82 L216.59,787.22 L218.54,787.60 L220.48,787.97 L222.43,788.33 L224.37,788.68 L226.31,789.03 L228.26,789.37 L230.20,789.70 L232.15,790.02 L234.09,790.34 L236.04,790.65 L237.98,790.95 L239.92,791.24 L241.87,791.52 L243.81,791.80 L245.76,792.07 L247.70,792.33 L249.65,792.58 L251.59,792.83 L253.53,793.06 L255.48,793.29 L257.42,793.51 L259.37,793.72 L261.31,793.92 L263.26,794.12 L265.20,794.30 L267.15,794.49 L269.09,794.66 L271.03,794.83 L272.98,794.99 L274.92,795.14 L276.87,795.29 L278.81,795.44 L280.76,795.58 L282.70,795.71 L284.64,795.84 L286.59,795.96 L288.53,796.08 L290.48,796.20 L292.42,796.31 L294.37,796.41 L296.31,796.51 L298.25,796.61 L300.20,796.71 L302.14,796.80 L304.09,796.88 L306.03,796.97 L307.98,797.05 L309.92,797.13 L311.87,797.20 L313.81,797.28 L315.75,797.35 L317.70,797.41 L319.64,797.48 L321.59,797.54 L323.53,797.60 L325.48,797.66 L327.42,797.72 L329.36,797.78 L331.31,797.83 L333.25,797.89 L335.20,797.94 L337.14,797.99 L339.09,798.04 L341.03,798.09 L342.97,798.14 L344.92,798.19 L346.86,798.24 L348.81,798.29 L350.75,798.33 L352.70,798.38 L354.64,798.43 L356.58,798.48 L358.53,798.52 L360.47,798.57 L362.42,798.62 L364.36,798.67 L366.31,798.72 L368.25,798.77 L370.20,798.82 L372.14,798.87 L374.08,798.93 L376.03,798.98 L377.97,799.04 L379.92,799.09 L381.86,799.15 L383.81,799.21 L385.75,799.27" fill="none" stroke="#0000ff" stroke-width="3.3" stroke-linecap="butt" stroke-linejoin="round"/>
<path d="M76.60,790.99 L78.54,791.04 L80.49,791.10 L82.43,791.15 L84.38,791.20 L86.32,791.25 L88.27,791.31 L90.21,791.36 L92.15,791.41 L94.10,791.46 L96.04,791.51 L97.99,791.56 L99.93,791.60 L101.88,791.65 L103.82,791.70 L105.77,791.75 L107.71,791.80 L109.65,791.84 L111.60,791.89 L113.54,791.93 L115.49,791.98 L117.43,792.02 L119.38,792.07 L121.32,792.11 L123.26,792.16 L125.21,792.20 L127.15,792.24 L129.10,792.29 L131.04,792.33 L132.99,792.37 L134.93,792.41 L136.87,792.45 L138.82,792.50 L140.76,792.54 L142.71,792.58 L144.65,792.62 L146.60,792.66 L148.54,792.70 L150.48,792.73 L152.43,792.77 L154.37,792.81 L156.32,792.85 L158.26,792.89 L160.21,792.92 L162.15,792.96 L164.10,793.00 L166.04,793.03 L167.98,793.07 L169.93,793.11 L171.87,793.14 L173.82,793.18 L175.76,793.21 L177.71,793.25 L179.65,793.28 L181.59,793.31 L183.54,793.35 L185.48,793.38 L187.43,793.41 L189.37,793.45 L191.32,793.48 L193.26,793.51 L195.20,793.54 L197.15,793.58 L199.09,793.61 L201.04,793.64 L202.98,793.67 L204.93,793.70 L206.87,793.73 L208.82,793.76 L210.76,793.79 L212.70,793.82 L214.65,793.85 L216.59,793.88 L218.54,793.91 L220.48,793.94 L222.43,793.97 L224.37,794.00 L226.31,794.03 L228.26,794.05 L230.20,794.08 L232.15,794.11 L234.09,794.14 L236.04,794.17 L237.98,794.19 L239.92,794.22 L241.87,794.25 L243.81,794.27 L245.76,794.30 L247.70,794.33 L249.65,794.35 L251.59,794.38 L253.53,794.41 L255.48,794.43 L257.42,794.46 L259.37,794.48 L261.31,794.51 L263.26,794.53 L265.20,794.56 L267.15,794.58 L269.09,794.61 L271.03,794.63 L272.98,794.66 L274.92,794.68 L276.87,794.71 L278.81,794.73 L280.76,794.76 L282.70,794.78 L284.64,794.81 L286.59,794.83 L288.53,794.85 L290.48,794.88 L292.42,794.90 L294.37,794.92 L296.31,794.95 L298.25,794.97 L300.20,794.99 L302.14,795.02 L304.09,795.04 L306.03,795.06 L307.98,795.09 L309.92,795.11 L311.87,795.13 L313.81,795.16 L315.75,795.18 L317.70,795.20 L319.64,795.23 L321.59,795.25 L323.53,795.27 L325.48,795.29 L327.42,795.32 L329.36,795.34 L331.31,795.36 L333.25,795.39 L335.20,795.41 L337.14,795.43 L339.09,795.45 L341.03,795.48 L342.97,795.50 L344.92,795.52 L346.86,795.55 L348.81,795.57 L350.75,795.59 L352.70,795.61 L354.64,795.64 L356.58,795.66 L358.53,795.68 L360.47,795.71 L362.42,795.73 L364.36,795.75 L366.31,795.77 L368.25,795.80 L370.20,795.82 L372.14,795.84 L374.08,795.87 L376.03,795.89 L377.97,795.91 L379.92,795.94 L381.86,795.96 L383.81,795.99 L385.75,796.01" fill="none" stroke="#00ff00" stroke-width="3.3" stroke-linecap="butt" stroke-linejoin="round" stroke-dasharray="11 6.2"/>
<path d="M76.60,703.72 L78.54,704.89 L80.49,706.09 L82.43,707.31 L84.38,708.53 L86.32,709.74 L88.27,710.92 L90.21,712.06 L92.15,713.16 L94.10,714.21 L96.04,715.24 L97.99,716.24 L99.93,717.24 L101.88,718.22 L103.82,719.20 L105.77,720.16 L107.71,721.10 L109.65,722.04 L111.60,722.95 L113.54,723.85 L115.49,724.74 L117.43,725.63 L119.38,726.52 L121.32,727.42 L123.26,728.35 L125.21,729.29 L127.15,730.25 L129.10,731.23 L131.04,732.21 L132.99,733.19 L134.93,734.15 L136.87,735.08 L138.82,735.99 L140.76,736.87 L142.71,737.72 L144.65,738.54 L146.60,739.34 L148.54,740.11 L150.48,740.85 L152.43,741.57 L154.37,742.26 L156.32,742.93 L158.26,743.58 L160.21,744.21 L162.15,744.81 L164.10,745.40 L166.04,745.97 L167.98,746.51 L169.93,747.04 L171.87,747.55 L173.82,748.05 L175.76,748.53 L177.71,748.99 L179.65,749.44 L181.59,749.87 L183.54,750.29 L185.48,750.69 L187.43,751.09 L189.37,751.47 L191.32,751.83 L193.26,752.19 L195.20,752.53 L197.15,752.87 L199.09,753.19 L201.04,753.50 L202.98,753.81 L204.93,754.10 L206.87,754.39 L208.82,754.66 L210.76,754.93 L212.70,755.19 L214.65,755.45 L216.59,755.70 L218.54,755.94 L220.48,756.17 L222.43,756.40 L224.37,756.62 L226.31,756.84 L228.26,757.05 L230.20,757.26 L232.15,757.47 L234.09,757.67 L236.04,757.86 L237.98,758.06 L239.92,758.25 L241.87,758.43 L243.81,758.62 L245.76,758.80 L247.70,758.98 L249.65,759.16 L251.59,759.33 L253.53,759.51 L255.48,759.68 L257.42,759.85 L259.37,760.02 L261.31,760.19 L263.26,760.36 L265.20,760.53 L267.15,760.69 L269.09,760.86 L271.03,761.03 L272.98,761.20 L274.92,761.37 L276.87,761.54 L278.81,761.72 L280.76,761.89 L282.70,762.06 L284.64,762.24 L286.59,762.41 L288.53,762.59 L290.48,762.76 L292.42,762.92 L294.37,763.09 L296.31,763.24 L298.25,763.40 L300.20,763.54 L302.14,763.68 L304.09,763.81 L306.03,763.94 L307.98,764.05 L309.92,764.15 L311.87,764.25 L313.81,764.33 L315.75,764.41 L317.70,764.47 L319.64,764.53 L321.59,764.59 L323.53,764.63 L325.48,764.67 L327.42,764.70 L329.36,764.72 L331.31,764.74 L333.25,764.75 L335.20,764.76 L337.14,764.76 L339.09,764.76 L341.03,764.74 L342.97,764.73 L344.92,764.71 L346.86,764.68 L348.81,764.64 L350.75,764.60 L352.70,764.55 L354.64,764.50 L356.58,764.44 L358.53,764.37 L360.47,764.30 L362.42,764.22 L364.36,764.13 L366.31,764.04 L368.25,763.93 L370.20,763.83 L372.14,763.71 L374.08,763.59 L376.03,763.46 L377.97,763.32 L379.92,763.17 L381.86,763.02 L383.81,762.85 L385.75,762.68" fill="none" stroke="#ff8c00" stroke-width="3.3" stroke-linecap="butt" stroke-linejoin="round"/>
</g>
<rect x="77.1" y="14.7" width="308.15" height="822.8" fill="none" stroke="#111" stroke-width="1.4"/>
<line x1="77.1" y1="289.0" x2="385.25" y2="289.0" stroke="#111" stroke-width="1.4"/>
<line x1="77.1" y1="563.25" x2="385.25" y2="563.25" stroke="#111" stroke-width="1.4"/>
<text x="237.60" y="37.00" text-anchor="start" style="font-family:'Liberation Serif',serif;font-size:16px;font-weight:normal;letter-spacing:0px" fill="#000" stroke="#000" stroke-width="0.85" stroke-linejoin="round" textLength="32.8" lengthAdjust="spacingAndGlyphs">vary</text>
<text x="279.60" y="37.00" text-anchor="start" style="font-family:'Liberation Serif',serif;font-size:16px;font-weight:normal;letter-spacing:0px" fill="#000" stroke="#000" stroke-width="0.85" stroke-linejoin="round" textLength="54.9" lengthAdjust="spacingAndGlyphs">nucleo:</text>
<path d="M237.5,50.0 L295.7,50.0" fill="none" stroke="#000000" stroke-width="3.2" stroke-linecap="butt" stroke-linejoin="round"/>
<text x="303.00" y="54.30" text-anchor="start" style="font-family:'Liberation Serif',serif;font-size:16px;font-weight:normal;letter-spacing:0px" fill="#000" stroke="#000" stroke-width="0.85" stroke-linejoin="round" textLength="38.3" lengthAdjust="spacingAndGlyphs">WW95</text>
<path d="M237.5,64.4 L294.2,64.4" fill="none" stroke="#000000" stroke-width="3.2" stroke-linecap="butt" stroke-linejoin="round" stroke-dasharray="24.6 6.9"/>
<text x="303.00" y="68.30" text-anchor="start" style="font-family:'Liberation Serif',serif;font-size:16px;font-weight:normal;letter-spacing:0px" fill="#000" stroke="#000" stroke-width="0.85" stroke-linejoin="round" textLength="45.8" lengthAdjust="spacingAndGlyphs">TNH96</text>
<text x="237.60" y="202.30" text-anchor="start" style="font-family:'Liberation Serif',serif;font-size:16px;font-weight:normal;letter-spacing:0px" fill="#000" stroke="#000" stroke-width="0.85" stroke-linejoin="round" textLength="32.8" lengthAdjust="spacingAndGlyphs">vary</text>
<text x="279.60" y="202.30" text-anchor="start" style="font-family:'Liberation Serif',serif;font-size:16px;font-weight:normal;letter-spacing:0px" fill="#000" stroke="#000" stroke-width="0.85" stroke-linejoin="round" textLength="15.1" lengthAdjust="spacingAndGlyphs">m</text>
<text x="294.8" y="206.4" style="font-family:'Liberation Sans',sans-serif;font-weight:bold;font-size:10px" textLength="19.2" lengthAdjust="spacingAndGlyphs">max</text>
<text x="314.60" y="202.30" text-anchor="start" style="font-family:'Liberation Serif',serif;font-size:16px;font-weight:normal;letter-spacing:0px" fill="#000" stroke="#000" stroke-width="0.85" stroke-linejoin="round" textLength="4.9" lengthAdjust="spacingAndGlyphs">(</text>
<text x="320.00" y="202.30" text-anchor="start" style="font-family:'Liberation Serif',serif;font-size:16px;font-weight:normal;letter-spacing:0px" fill="#000" stroke="#000" stroke-width="0.85" stroke-linejoin="round" textLength="12" lengthAdjust="spacingAndGlyphs">M</text>
<text x="332.8" y="206.4" style="font-family:'Liberation Sans',sans-serif;font-weight:bold;font-size:10px" textLength="12.4" lengthAdjust="spacingAndGlyphs">ecl</text>
<text x="346.20" y="202.30" text-anchor="start" style="font-family:'Liberation Serif',serif;font-size:16px;font-weight:normal;letter-spacing:0px" fill="#000" stroke="#000" stroke-width="0.85" stroke-linejoin="round" textLength="4.8" lengthAdjust="spacingAndGlyphs">)</text>
<text x="352.00" y="202.30" text-anchor="start" style="font-family:'Liberation Serif',serif;font-size:16px;font-weight:normal;letter-spacing:0px" fill="#000" stroke="#000" stroke-width="0.85" stroke-linejoin="round" textLength="4.6" lengthAdjust="spacingAndGlyphs">:</text>
<text x="293.60" y="222.60" text-anchor="start" style="font-family:'Liberation Serif',serif;font-size:16px;font-weight:normal;letter-spacing:0px" fill="#000" stroke="#000" stroke-width="0.85" stroke-linejoin="round" textLength="59.8" lengthAdjust="spacingAndGlyphs">Weidner</text>
<text x="293.60" y="237.00" text-anchor="start" style="font-family:'Liberation Serif',serif;font-size:16px;font-weight:normal;letter-spacing:0px" fill="#ff00ff" stroke="#ff00ff" stroke-width="0.85" stroke-linejoin="round" textLength="51.0" lengthAdjust="spacingAndGlyphs">Larson</text>
<text x="293.60" y="250.10" text-anchor="start" style="font-family:'Liberation Serif',serif;font-size:16px;font-weight:normal;letter-spacing:0px" fill="#ff8c00" stroke="#ff8c00" stroke-width="0.85" stroke-linejoin="round" textLength="55.2" lengthAdjust="spacingAndGlyphs">Koppen</text>
<path d="M92.6,234 L150.7,234" fill="none" stroke="#00c8c8" stroke-width="3.2" stroke-linecap="butt" stroke-linejoin="round"/>
<path d="M92.6,247.3 L150.4,247.3" fill="none" stroke="#00c8c8" stroke-width="2.35" stroke-linecap="butt" stroke-linejoin="round" stroke-dasharray="2.1 2.55"/>
<text x="158.20" y="237.70" text-anchor="start" style="font-family:'Liberation Serif',serif;font-size:16px;font-weight:normal;letter-spacing:0px" fill="#00c8c8" stroke="#00c8c8" stroke-width="0.85" stroke-linejoin="round" textLength="59.5" lengthAdjust="spacingAndGlyphs">y=0.015</text>
<text x="158.20" y="251.50" text-anchor="start" style="font-family:'Liberation Serif',serif;font-size:16px;font-weight:normal;letter-spacing:0px" fill="#00c8c8" stroke="#00c8c8" stroke-width="0.85" stroke-linejoin="round" textLength="52.1" lengthAdjust="spacingAndGlyphs">y=0.01,</text>
<text x="223.00" y="251.50" text-anchor="start" style="font-family:'Liberation Serif',serif;font-size:16px;font-weight:normal;letter-spacing:0px" fill="#00c8c8" stroke="#00c8c8" stroke-width="0.85" stroke-linejoin="round" textLength="30.6" lengthAdjust="spacingAndGlyphs">0.02</text>
<path d="M237.5,330.0 L295.7,330.0" fill="none" stroke="#0000ff" stroke-width="3.2" stroke-linecap="butt" stroke-linejoin="round"/>
<path d="M237.5,349.6 L295.7,349.6" fill="none" stroke="#00ff00" stroke-width="3.2" stroke-linecap="butt" stroke-linejoin="round" stroke-dasharray="10.3 6.87"/>
<text x="302.20" y="333.10" text-anchor="start" style="font-family:'Liberation Serif',serif;font-size:16px;font-weight:normal;letter-spacing:0px" fill="#0000ff" stroke="#0000ff" stroke-width="0.85" stroke-linejoin="round" textLength="9.4" lengthAdjust="spacingAndGlyphs">α</text>
<text x="312.00" y="333.10" text-anchor="start" style="font-family:'Liberation Serif',serif;font-size:16px;font-weight:normal;letter-spacing:0px" fill="#0000ff" stroke="#0000ff" stroke-width="0.85" stroke-linejoin="round" textLength="9.2" lengthAdjust="spacingAndGlyphs">F</text>
<text x="321.40" y="337.20" text-anchor="start" style="font-family:'Liberation Serif',serif;font-size:11px;font-weight:bold;letter-spacing:0px" fill="#0000ff"  textLength="6" lengthAdjust="spacingAndGlyphs">g</text>
<text x="329.30" y="333.10" text-anchor="start" style="font-family:'Liberation Serif',serif;font-size:16px;font-weight:normal;letter-spacing:0px" fill="#0000ff" stroke="#0000ff" stroke-width="0.85" stroke-linejoin="round" textLength="9.4" lengthAdjust="spacingAndGlyphs">+</text>
<text x="339.60" y="333.10" text-anchor="start" style="font-family:'Liberation Serif',serif;font-size:16px;font-weight:normal;letter-spacing:0px" fill="#0000ff" stroke="#0000ff" stroke-width="0.85" stroke-linejoin="round" textLength="6.9" lengthAdjust="spacingAndGlyphs">1</text>
<text x="302.20" y="352.30" text-anchor="start" style="font-family:'Liberation Serif',serif;font-size:16px;font-weight:normal;letter-spacing:0px" fill="#00ff00" stroke="#00ff00" stroke-width="0.85" stroke-linejoin="round" textLength="9.4" lengthAdjust="spacingAndGlyphs">α</text>
<text x="312.40" y="352.30" text-anchor="start" style="font-family:'Liberation Serif',serif;font-size:16px;font-weight:normal;letter-spacing:0px" fill="#00ff00" stroke="#00ff00" stroke-width="0.85" stroke-linejoin="round" textLength="9.4" lengthAdjust="spacingAndGlyphs">×</text>
<text x="323.60" y="352.30" text-anchor="start" style="font-family:'Liberation Serif',serif;font-size:16px;font-weight:normal;letter-spacing:0px" fill="#00ff00" stroke="#00ff00" stroke-width="0.85" stroke-linejoin="round" textLength="23.0" lengthAdjust="spacingAndGlyphs">0.5</text>
<text x="348.00" y="352.30" text-anchor="start" style="font-family:'Liberation Serif',serif;font-size:16px;font-weight:normal;letter-spacing:0px" fill="#00ff00" stroke="#00ff00" stroke-width="0.85" stroke-linejoin="round" textLength="9.4" lengthAdjust="spacingAndGlyphs">+</text>
<text x="358.30" y="352.30" text-anchor="start" style="font-family:'Liberation Serif',serif;font-size:16px;font-weight:normal;letter-spacing:0px" fill="#00ff00" stroke="#00ff00" stroke-width="0.85" stroke-linejoin="round" textLength="7.3" lengthAdjust="spacingAndGlyphs">1</text>
<text transform="translate(237.64,315.91) scale(0.7924,0.7293)" style="font-family:'Liberation Serif',serif;font-size:26px;font-weight:normal" fill="#000" stroke="#000" stroke-width="0.5" stroke-linejoin="round">T04</text>
<text transform="translate(283.21,316.10) scale(0.6802,0.7516)" style="font-family:'Liberation Serif',serif;font-size:26px;font-weight:normal" fill="#000" stroke="#000" stroke-width="0.5" stroke-linejoin="round">MZR</text>
<text transform="translate(237.46,590.16) scale(0.7622,0.7293)" style="font-family:'Liberation Serif',serif;font-size:26px;font-weight:normal" fill="#000" stroke="#000" stroke-width="0.5" stroke-linejoin="round">D02</text>
<text transform="translate(283.21,590.35) scale(0.6802,0.7516)" style="font-family:'Liberation Serif',serif;font-size:26px;font-weight:normal" fill="#000" stroke="#000" stroke-width="0.5" stroke-linejoin="round">MZR</text>
<text transform="translate(39.97,62.30) scale(0.8909,0.7578)" style="font-family:'Liberation Serif',serif;font-size:26px;font-weight:normal" fill="#000">1.5</text>
<line x1="26" y1="56.0" x2="37.5" y2="56.0" stroke="#000" stroke-width="1.25" stroke-linecap="round"/>
<text transform="translate(56.94,131.40) scale(0.9556,0.7779)" style="font-family:'Liberation Serif',serif;font-size:26px;font-weight:normal" fill="#000">2</text>
<line x1="44.6" y1="124.7" x2="55.4" y2="124.7" stroke="#000" stroke-width="1.25" stroke-linecap="round"/>
<text transform="translate(39.09,200.01) scale(0.9125,0.7550)" style="font-family:'Liberation Serif',serif;font-size:26px;font-weight:normal" fill="#000">2.5</text>
<line x1="26.5" y1="193.7" x2="37.0" y2="193.7" stroke="#000" stroke-width="1.25" stroke-linecap="round"/>
<text transform="translate(56.91,268.50) scale(0.9604,0.7721)" style="font-family:'Liberation Serif',serif;font-size:26px;font-weight:normal" fill="#000">3</text>
<line x1="44.3" y1="262.0" x2="55.0" y2="262.0" stroke="#000" stroke-width="1.25" stroke-linecap="round"/>
<text transform="translate(57.77,557.45) scale(0.8507,0.7692)" style="font-family:'Liberation Serif',serif;font-size:26px;font-weight:normal" fill="#000">0</text>
<text transform="translate(57.61,507.85) scale(0.8982,0.7837)" style="font-family:'Liberation Serif',serif;font-size:26px;font-weight:normal" fill="#000">2</text>
<text transform="translate(58.20,458.05) scale(0.7775,0.7897)" style="font-family:'Liberation Serif',serif;font-size:26px;font-weight:normal" fill="#000">4</text>
<text transform="translate(57.67,408.05) scale(0.8457,0.7721)" style="font-family:'Liberation Serif',serif;font-size:26px;font-weight:normal" fill="#000">6</text>
<text transform="translate(57.77,358.25) scale(0.8507,0.7692)" style="font-family:'Liberation Serif',serif;font-size:26px;font-weight:normal" fill="#000">8</text>
<text transform="translate(45.96,308.45) scale(0.8967,0.7692)" style="font-family:'Liberation Serif',serif;font-size:26px;font-weight:normal" fill="#000">10</text>
<text transform="translate(57.77,832.20) scale(0.8507,0.7692)" style="font-family:'Liberation Serif',serif;font-size:26px;font-weight:normal" fill="#000">0</text>
<text transform="translate(57.61,782.40) scale(0.8982,0.7837)" style="font-family:'Liberation Serif',serif;font-size:26px;font-weight:normal" fill="#000">2</text>
<text transform="translate(58.20,732.40) scale(0.7775,0.7897)" style="font-family:'Liberation Serif',serif;font-size:26px;font-weight:normal" fill="#000">4</text>
<text transform="translate(57.67,682.20) scale(0.8457,0.7721)" style="font-family:'Liberation Serif',serif;font-size:26px;font-weight:normal" fill="#000">6</text>
<text transform="translate(57.77,632.20) scale(0.8507,0.7692)" style="font-family:'Liberation Serif',serif;font-size:26px;font-weight:normal" fill="#000">8</text>
<text transform="translate(45.96,582.20) scale(0.8967,0.7692)" style="font-family:'Liberation Serif',serif;font-size:26px;font-weight:normal" fill="#000">10</text>
<text transform="translate(146.04,862.10) scale(0.8997,0.7721)" style="font-family:'Liberation Serif',serif;font-size:26px;font-weight:normal" fill="#000">9</text>
<text transform="translate(246.85,862.10) scale(0.8571,0.7692)" style="font-family:'Liberation Serif',serif;font-size:26px;font-weight:normal" fill="#000">10</text>
<text transform="translate(352.13,862.30) scale(0.9108,0.7867)" style="font-family:'Liberation Serif',serif;font-size:26px;font-weight:normal" fill="#000">11</text>
<text transform="rotate(-90) translate(-184.01,18.20) scale(0.9879,0.9657)" style="font-family:'Liberation Serif',serif;font-size:26px;font-weight:normal" fill="#000">l</text>
<text transform="rotate(-90) translate(-177.22,18.14) scale(1.3575,0.9936)" style="font-family:'Liberation Serif',serif;font-size:26px;font-weight:normal" fill="#000">o</text>
<text transform="rotate(-90) translate(-161.67,18.40) scale(1.3275,0.9305)" style="font-family:'Liberation Serif',serif;font-size:26px;font-weight:normal" fill="#000">g</text>
<text transform="rotate(-90) translate(-132.61,18.09) scale(0.9516,0.9858)" style="font-family:'Liberation Serif',serif;font-size:26px;font-weight:normal" fill="#000">y</text>
<text transform="rotate(-90) translate(-702.36,21.31) scale(1.1182,1.0712)" style="font-family:'Liberation Serif',serif;font-size:26px;font-weight:normal" fill="#000">y</text>
<line x1="26.5" y1="687" x2="1" y2="671" stroke="#000" stroke-width="1.3" stroke-linecap="round"/>
<text transform="rotate(-90) translate(-669.49,22.00) scale(0.8033,1.0863)" style="font-family:'Liberation Serif',serif;font-size:26px;font-weight:normal" fill="#000">Z</text>
<text transform="rotate(-90) translate(-654.83,29.18) scale(0.6617,0.5986)" style="font-family:'Liberation Serif',serif;font-size:26px;font-weight:bold" fill="#000">g</text>
<line x1="10.5" y1="615.6" x2="10.5" y2="629.7" stroke="#000" stroke-width="1.3" stroke-linecap="round"/>
<line x1="16.8" y1="615.6" x2="16.8" y2="629.7" stroke="#000" stroke-width="1.3" stroke-linecap="round"/>
<text transform="rotate(-90) translate(-600.29,22.68) scale(1.3516,1.0009)" style="font-family:'Liberation Serif',serif;font-size:26px;font-weight:normal" fill="#000">ζ</text>
<text transform="rotate(-90) translate(-584.73,27.95) scale(0.4734,0.5810)" style="font-family:'Liberation Serif',serif;font-size:26px;font-weight:bold" fill="#000">w</text>
<line x1="13.7" y1="544" x2="13.7" y2="558" stroke="#000" stroke-width="1.3" stroke-linecap="round"/>
<line x1="6.7" y1="551" x2="20.7" y2="551" stroke="#000" stroke-width="1.3" stroke-linecap="round"/>
<text transform="rotate(-90) translate(-527.61,21.92) scale(1.2407,1.0921)" style="font-family:'Liberation Serif',serif;font-size:26px;font-weight:normal" fill="#000">α</text>
<text transform="rotate(-90) translate(-508.54,22.00) scale(0.8981,1.0863)" style="font-family:'Liberation Serif',serif;font-size:26px;font-weight:normal" fill="#000">F</text>
<text transform="rotate(-90) translate(-495.18,29.18) scale(0.7361,0.5986)" style="font-family:'Liberation Serif',serif;font-size:26px;font-weight:bold" fill="#000">g</text>
<line x1="13.7" y1="456" x2="13.7" y2="470" stroke="#000" stroke-width="1.3" stroke-linecap="round"/>
<line x1="6.7" y1="463" x2="20.7" y2="463" stroke="#000" stroke-width="1.3" stroke-linecap="round"/>
<text transform="rotate(-90) translate(-437.59,22.00) scale(0.8729,1.0256)" style="font-family:'Liberation Serif',serif;font-size:26px;font-weight:normal" fill="#000">1</text>
<text transform="translate(167.46,895.80) scale(1.0364,1.0072)" style="font-family:'Liberation Serif',serif;font-size:26px;font-weight:normal" fill="#000">l</text>
<text transform="translate(174.79,895.74) scale(1.2398,0.9936)" style="font-family:'Liberation Serif',serif;font-size:26px;font-weight:normal" fill="#000">o</text>
<text transform="translate(189.74,896.56) scale(1.2308,0.9728)" style="font-family:'Liberation Serif',serif;font-size:26px;font-weight:normal" fill="#000">g</text>
<text transform="translate(217.98,895.80) scale(0.8686,1.0570)" style="font-family:'Liberation Serif',serif;font-size:26px;font-weight:normal" fill="#000">M</text>
<line x1="242.0" y1="892.7" x2="242.0" y2="898.9" stroke="#000" stroke-width="1.1" stroke-linecap="round"/>
<line x1="239.32" y1="894.25" x2="244.68" y2="897.35" stroke="#000" stroke-width="1.1" stroke-linecap="round"/>
<line x1="244.68" y1="894.25" x2="239.32" y2="897.35" stroke="#000" stroke-width="1.1" stroke-linecap="round"/>
<line x1="247" y1="900" x2="262.1" y2="875.6" stroke="#000" stroke-width="1.3" stroke-linecap="round"/>
<text transform="translate(263.52,895.80) scale(0.8177,1.0570)" style="font-family:'Liberation Serif',serif;font-size:26px;font-weight:normal" fill="#000">M</text>
<circle cx="289.5" cy="897.8" r="5.1" fill="none" stroke="#000" stroke-width="1.2"/><circle cx="289.5" cy="897.8" r="1.4" fill="#000"/>
</svg>
</body></html>
